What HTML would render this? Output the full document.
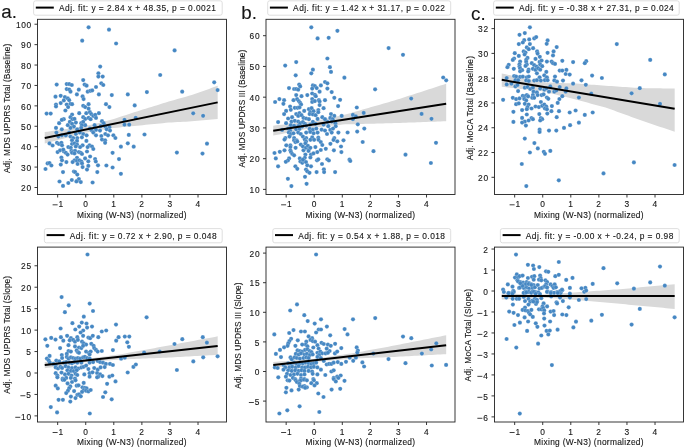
<!DOCTYPE html><html><head><meta charset="utf-8"><style>html,body{margin:0;padding:0;background:#fff;width:685px;height:448px;overflow:hidden}svg{display:block;will-change:transform}text{font-family:"Liberation Sans",sans-serif;fill:#161616;stroke:#161616;stroke-width:0.12px}</style></head><body>
<svg width="685" height="448" viewBox="0 0 685 448">
<text x="1.2" y="18.4" font-size="18.8" stroke="#000" stroke-width="0.3">a.</text>
<text x="241.2" y="18.9" font-size="18.8" stroke="#000" stroke-width="0.3">b.</text>
<text x="471.0" y="20.2" font-size="18.8" stroke="#000" stroke-width="0.3">c.</text>
<polygon fill="#d9d9d9" points="44.74,132.1 47.63,131.68 50.51,131.26 53.39,130.84 56.27,130.42 59.16,130 62.04,129.58 64.92,129.17 67.8,128.75 70.68,128.33 73.57,127.91 76.45,127.49 79.33,127.07 82.21,126.65 85.1,126.23 87.98,125.58 90.86,124.86 93.74,124.13 96.63,123.41 99.51,122.69 102.39,121.97 105.27,121.25 108.16,120.53 111.04,119.81 113.92,118.88 116.8,117.95 119.68,117.02 122.57,116.09 125.45,115.16 128.33,114.22 131.21,113.29 134.1,112.36 136.98,111.43 139.86,110.5 142.74,109.6 145.63,108.71 148.51,107.82 151.39,106.93 154.27,106.03 157.16,105.14 160.04,104.25 162.92,103.35 165.8,102.46 168.68,101.58 171.57,100.76 174.45,99.93 177.33,99.11 180.21,98.29 183.1,97.47 185.98,96.65 188.86,95.83 191.74,95 194.63,94.02 197.51,92.99 200.39,91.97 203.27,90.94 206.16,89.91 209.04,88.88 211.92,87.85 214.8,86.82 217.68,85.79 217.68,119.09 214.8,119.35 211.92,119.6 209.04,119.85 206.16,120.11 203.27,120.36 200.39,120.61 197.51,120.86 194.63,121.12 191.74,121.35 188.86,121.5 185.98,121.65 183.1,121.81 180.21,121.96 177.33,122.11 174.45,122.27 171.57,122.42 168.68,122.57 165.8,122.84 162.92,123.13 160.04,123.42 157.16,123.7 154.27,123.99 151.39,124.28 148.51,124.56 145.63,124.85 142.74,125.14 139.86,125.43 136.98,125.7 134.1,125.98 131.21,126.26 128.33,126.54 125.45,126.82 122.57,127.1 119.68,127.38 116.8,127.66 113.92,127.94 111.04,128.22 108.16,128.72 105.27,129.22 102.39,129.73 99.51,130.23 96.63,130.73 93.74,131.24 90.86,131.74 87.98,132.25 85.1,132.81 82.21,133.57 79.33,134.33 76.45,135.1 73.57,135.86 70.68,136.63 67.8,137.39 64.92,138.15 62.04,138.92 59.16,139.68 56.27,140.44 53.39,141.21 50.51,141.97 47.63,142.74 44.74,143.5"/>
<g fill="#4587c3" stroke="#fff" stroke-opacity="0.55" stroke-width="0.35">
<circle cx="88.6" cy="27.3" r="2.1"/>
<circle cx="109" cy="29.7" r="2.1"/>
<circle cx="82.2" cy="40.7" r="2.1"/>
<circle cx="116.1" cy="43.5" r="2.1"/>
<circle cx="100.2" cy="66.6" r="2.1"/>
<circle cx="98.4" cy="73.3" r="2.1"/>
<circle cx="98.4" cy="76.6" r="2.1"/>
<circle cx="102.7" cy="76.6" r="2.1"/>
<circle cx="83.2" cy="80.1" r="2.1"/>
<circle cx="56.7" cy="84.6" r="2.1"/>
<circle cx="66.7" cy="84.1" r="2.1"/>
<circle cx="69.2" cy="84.1" r="2.1"/>
<circle cx="71.8" cy="85" r="2.1"/>
<circle cx="84.6" cy="84.6" r="2.1"/>
<circle cx="86.6" cy="85.7" r="2.1"/>
<circle cx="101.3" cy="83.3" r="2.1"/>
<circle cx="103.3" cy="85" r="2.1"/>
<circle cx="96" cy="87" r="2.1"/>
<circle cx="66.7" cy="89.1" r="2.1"/>
<circle cx="69.2" cy="89.5" r="2.1"/>
<circle cx="70.5" cy="91.7" r="2.1"/>
<circle cx="78.8" cy="89.7" r="2.1"/>
<circle cx="87.7" cy="91.7" r="2.1"/>
<circle cx="90.3" cy="90.8" r="2.1"/>
<circle cx="92.2" cy="90.4" r="2.1"/>
<circle cx="76.9" cy="94.4" r="2.1"/>
<circle cx="98.9" cy="94.4" r="2.1"/>
<circle cx="111.8" cy="95.1" r="2.1"/>
<circle cx="55.5" cy="96.7" r="2.1"/>
<circle cx="60.7" cy="95.8" r="2.1"/>
<circle cx="64.9" cy="97.1" r="2.1"/>
<circle cx="67.8" cy="98.4" r="2.1"/>
<circle cx="69.2" cy="100.2" r="2.1"/>
<circle cx="82.6" cy="96.4" r="2.1"/>
<circle cx="83.6" cy="99.1" r="2.1"/>
<circle cx="63.8" cy="100.4" r="2.1"/>
<circle cx="56" cy="104.5" r="2.1"/>
<circle cx="56" cy="106.5" r="2.1"/>
<circle cx="60.7" cy="103.1" r="2.1"/>
<circle cx="66.7" cy="104.5" r="2.1"/>
<circle cx="68.1" cy="107.1" r="2.1"/>
<circle cx="70.5" cy="103.8" r="2.1"/>
<circle cx="72.1" cy="104.2" r="2.1"/>
<circle cx="88.6" cy="104.2" r="2.1"/>
<circle cx="83.2" cy="105.8" r="2.1"/>
<circle cx="85.2" cy="107.1" r="2.1"/>
<circle cx="88.6" cy="108.7" r="2.1"/>
<circle cx="106" cy="104.2" r="2.1"/>
<circle cx="109.4" cy="107.1" r="2.1"/>
<circle cx="65.4" cy="110.5" r="2.1"/>
<circle cx="46.6" cy="113.6" r="2.1"/>
<circle cx="50.7" cy="113.6" r="2.1"/>
<circle cx="72.1" cy="114.5" r="2.1"/>
<circle cx="70.5" cy="117.2" r="2.1"/>
<circle cx="72.5" cy="119.2" r="2.1"/>
<circle cx="79.2" cy="113.2" r="2.1"/>
<circle cx="86.3" cy="113.2" r="2.1"/>
<circle cx="89.9" cy="112.2" r="2.1"/>
<circle cx="91.3" cy="114.1" r="2.1"/>
<circle cx="93.3" cy="115.9" r="2.1"/>
<circle cx="95.3" cy="114.9" r="2.1"/>
<circle cx="98.9" cy="113.2" r="2.1"/>
<circle cx="83.2" cy="117.2" r="2.1"/>
<circle cx="85.2" cy="118.9" r="2.1"/>
<circle cx="88.6" cy="117.9" r="2.1"/>
<circle cx="90.6" cy="119.2" r="2.1"/>
<circle cx="96" cy="117.9" r="2.1"/>
<circle cx="63.8" cy="119.2" r="2.1"/>
<circle cx="61.8" cy="119.9" r="2.1"/>
<circle cx="74.5" cy="118.9" r="2.1"/>
<circle cx="59.1" cy="123.2" r="2.1"/>
<circle cx="56" cy="127.9" r="2.1"/>
<circle cx="69.8" cy="121.9" r="2.1"/>
<circle cx="72.1" cy="123.9" r="2.1"/>
<circle cx="75.9" cy="122.6" r="2.1"/>
<circle cx="73.9" cy="126.6" r="2.1"/>
<circle cx="67.8" cy="125.2" r="2.1"/>
<circle cx="70.5" cy="127.9" r="2.1"/>
<circle cx="81.2" cy="123.2" r="2.1"/>
<circle cx="83.2" cy="121.9" r="2.1"/>
<circle cx="85.2" cy="125.2" r="2.1"/>
<circle cx="81.9" cy="125.2" r="2.1"/>
<circle cx="102" cy="121.2" r="2.1"/>
<circle cx="103.7" cy="123.2" r="2.1"/>
<circle cx="94.6" cy="125.2" r="2.1"/>
<circle cx="100.7" cy="126.2" r="2.1"/>
<circle cx="105.3" cy="126.6" r="2.1"/>
<circle cx="109.4" cy="127.2" r="2.1"/>
<circle cx="61.8" cy="129.3" r="2.1"/>
<circle cx="77.2" cy="129.3" r="2.1"/>
<circle cx="81.2" cy="127.9" r="2.1"/>
<circle cx="89.9" cy="128.6" r="2.1"/>
<circle cx="91.9" cy="130.6" r="2.1"/>
<circle cx="96" cy="129.9" r="2.1"/>
<circle cx="100" cy="130.6" r="2.1"/>
<circle cx="106.7" cy="129.3" r="2.1"/>
<circle cx="110" cy="130.6" r="2.1"/>
<circle cx="56.4" cy="132.6" r="2.1"/>
<circle cx="58.4" cy="136.6" r="2.1"/>
<circle cx="61.8" cy="135.3" r="2.1"/>
<circle cx="65.8" cy="135.3" r="2.1"/>
<circle cx="69.2" cy="132.6" r="2.1"/>
<circle cx="70.5" cy="136.6" r="2.1"/>
<circle cx="75.9" cy="134" r="2.1"/>
<circle cx="79.9" cy="132.6" r="2.1"/>
<circle cx="83.2" cy="134" r="2.1"/>
<circle cx="86.6" cy="135.3" r="2.1"/>
<circle cx="93.3" cy="132.6" r="2.1"/>
<circle cx="96" cy="135.3" r="2.1"/>
<circle cx="101.3" cy="136" r="2.1"/>
<circle cx="105.3" cy="134" r="2.1"/>
<circle cx="108" cy="135.3" r="2.1"/>
<circle cx="113.4" cy="135.3" r="2.1"/>
<circle cx="115.4" cy="138" r="2.1"/>
<circle cx="77.2" cy="138" r="2.1"/>
<circle cx="81.9" cy="137.3" r="2.1"/>
<circle cx="73.2" cy="138" r="2.1"/>
<circle cx="72" cy="140.3" r="2.1"/>
<circle cx="77" cy="140.9" r="2.1"/>
<circle cx="86.4" cy="140.9" r="2.1"/>
<circle cx="102" cy="139.6" r="2.1"/>
<circle cx="105.1" cy="140.3" r="2.1"/>
<circle cx="105.1" cy="142.8" r="2.1"/>
<circle cx="49.5" cy="143.4" r="2.1"/>
<circle cx="52.6" cy="145.5" r="2.1"/>
<circle cx="57" cy="142.8" r="2.1"/>
<circle cx="58.9" cy="144" r="2.1"/>
<circle cx="61.4" cy="142.8" r="2.1"/>
<circle cx="62" cy="145.3" r="2.1"/>
<circle cx="72" cy="144" r="2.1"/>
<circle cx="74.5" cy="143.4" r="2.1"/>
<circle cx="77" cy="144.6" r="2.1"/>
<circle cx="75.8" cy="146.5" r="2.1"/>
<circle cx="82.6" cy="145.3" r="2.1"/>
<circle cx="80.1" cy="147.1" r="2.1"/>
<circle cx="89.5" cy="145.3" r="2.1"/>
<circle cx="92" cy="146.5" r="2.1"/>
<circle cx="93.3" cy="149" r="2.1"/>
<circle cx="87.6" cy="147.1" r="2.1"/>
<circle cx="68.3" cy="147.1" r="2.1"/>
<circle cx="70.8" cy="147.8" r="2.1"/>
<circle cx="57.6" cy="152.1" r="2.1"/>
<circle cx="60.1" cy="150.3" r="2.1"/>
<circle cx="63.9" cy="151.5" r="2.1"/>
<circle cx="65.8" cy="152.8" r="2.1"/>
<circle cx="67.6" cy="154.6" r="2.1"/>
<circle cx="63.3" cy="149.6" r="2.1"/>
<circle cx="71.4" cy="150.9" r="2.1"/>
<circle cx="73.3" cy="151.5" r="2.1"/>
<circle cx="75.1" cy="150.9" r="2.1"/>
<circle cx="72" cy="152.8" r="2.1"/>
<circle cx="74.5" cy="153.4" r="2.1"/>
<circle cx="78.9" cy="152.1" r="2.1"/>
<circle cx="80.8" cy="152.8" r="2.1"/>
<circle cx="82" cy="154" r="2.1"/>
<circle cx="87" cy="151.5" r="2.1"/>
<circle cx="112.6" cy="152.8" r="2.1"/>
<circle cx="61.4" cy="157.5" r="2.1"/>
<circle cx="62" cy="160.3" r="2.1"/>
<circle cx="66.4" cy="162.1" r="2.1"/>
<circle cx="77" cy="157.8" r="2.1"/>
<circle cx="74.5" cy="160.3" r="2.1"/>
<circle cx="72.6" cy="162.1" r="2.1"/>
<circle cx="77" cy="160.9" r="2.1"/>
<circle cx="79.5" cy="160.3" r="2.1"/>
<circle cx="81.4" cy="161.5" r="2.1"/>
<circle cx="77.6" cy="164" r="2.1"/>
<circle cx="82" cy="163.4" r="2.1"/>
<circle cx="85.1" cy="158.4" r="2.1"/>
<circle cx="88.3" cy="161.3" r="2.1"/>
<circle cx="90.1" cy="156.5" r="2.1"/>
<circle cx="95.1" cy="159" r="2.1"/>
<circle cx="95.8" cy="161.5" r="2.1"/>
<circle cx="47.6" cy="163.4" r="2.1"/>
<circle cx="49.5" cy="163" r="2.1"/>
<circle cx="51.4" cy="165.5" r="2.1"/>
<circle cx="45.5" cy="169" r="2.1"/>
<circle cx="60.8" cy="164.6" r="2.1"/>
<circle cx="82.6" cy="167.1" r="2.1"/>
<circle cx="88.3" cy="165.9" r="2.1"/>
<circle cx="87" cy="169.6" r="2.1"/>
<circle cx="98" cy="165.3" r="2.1"/>
<circle cx="106.4" cy="165.5" r="2.1"/>
<circle cx="112.6" cy="167.5" r="2.1"/>
<circle cx="63" cy="172.1" r="2.1"/>
<circle cx="73.9" cy="171.5" r="2.1"/>
<circle cx="75.1" cy="172.1" r="2.1"/>
<circle cx="77.3" cy="174.6" r="2.1"/>
<circle cx="97.3" cy="172.1" r="2.1"/>
<circle cx="59.5" cy="181.5" r="2.1"/>
<circle cx="71.8" cy="180" r="2.1"/>
<circle cx="77" cy="180.9" r="2.1"/>
<circle cx="78.9" cy="179" r="2.1"/>
<circle cx="80.8" cy="182.1" r="2.1"/>
<circle cx="76.4" cy="181.5" r="2.1"/>
<circle cx="68.3" cy="183" r="2.1"/>
<circle cx="63" cy="185.9" r="2.1"/>
<circle cx="92.6" cy="182.5" r="2.1"/>
<circle cx="174.6" cy="50.4" r="2.1"/>
<circle cx="160.2" cy="75" r="2.1"/>
<circle cx="214.2" cy="82.3" r="2.1"/>
<circle cx="217.6" cy="90.1" r="2.1"/>
<circle cx="127.8" cy="94.4" r="2.1"/>
<circle cx="146.9" cy="92.1" r="2.1"/>
<circle cx="182.2" cy="91.7" r="2.1"/>
<circle cx="134.7" cy="105.4" r="2.1"/>
<circle cx="193.2" cy="113.3" r="2.1"/>
<circle cx="203.1" cy="115.8" r="2.1"/>
<circle cx="124.5" cy="119.8" r="2.1"/>
<circle cx="135.7" cy="117.8" r="2.1"/>
<circle cx="124.5" cy="124.7" r="2.1"/>
<circle cx="129.2" cy="124.7" r="2.1"/>
<circle cx="128.8" cy="134.9" r="2.1"/>
<circle cx="144.5" cy="134.5" r="2.1"/>
<circle cx="127.8" cy="143.3" r="2.1"/>
<circle cx="120.9" cy="146.7" r="2.1"/>
<circle cx="133.7" cy="146.7" r="2.1"/>
<circle cx="176.9" cy="152.6" r="2.1"/>
<circle cx="207" cy="143.7" r="2.1"/>
<circle cx="202.5" cy="153.6" r="2.1"/>
<circle cx="119" cy="159.1" r="2.1"/>
<circle cx="120.9" cy="173.8" r="2.1"/>
</g>
<line x1="44.74" y1="138.1" x2="217.68" y2="102.39" stroke="#000" stroke-width="2"/>
<rect x="37.5" y="19.3" width="189.0" height="175.2" fill="none" stroke="#222" stroke-width="0.9"/>
<line x1="57.66" y1="194.5" x2="57.66" y2="197.5" stroke="#222" stroke-width="0.9"/>
<rect x="52.61" y="204.45" width="5.0" height="0.8" fill="#111"/><text x="58.46" y="207.20" font-size="8.4" letter-spacing="0.000">1</text>
<line x1="85.73" y1="194.5" x2="85.73" y2="197.5" stroke="#222" stroke-width="0.9"/>
<text x="83.19" y="207.20" font-size="8.4" letter-spacing="0.000">0</text>
<line x1="113.81" y1="194.5" x2="113.81" y2="197.5" stroke="#222" stroke-width="0.9"/>
<text x="111.26" y="207.20" font-size="8.4" letter-spacing="0.000">1</text>
<line x1="141.88" y1="194.5" x2="141.88" y2="197.5" stroke="#222" stroke-width="0.9"/>
<text x="139.34" y="207.20" font-size="8.4" letter-spacing="0.000">2</text>
<line x1="169.96" y1="194.5" x2="169.96" y2="197.5" stroke="#222" stroke-width="0.9"/>
<text x="167.41" y="207.20" font-size="8.4" letter-spacing="0.000">3</text>
<line x1="198.03" y1="194.5" x2="198.03" y2="197.5" stroke="#222" stroke-width="0.9"/>
<text x="195.49" y="207.20" font-size="8.4" letter-spacing="0.000">4</text>
<text x="77.10" y="217.60" font-size="8.4" letter-spacing="0.291">Mixing (W-N3) (normalized)</text>
<line x1="34.5" y1="187.5" x2="37.5" y2="187.5" stroke="#222" stroke-width="0.9"/>
<text x="21.12" y="191.20" font-size="8.4" letter-spacing="0.838">20</text>
<line x1="34.5" y1="167.09" x2="37.5" y2="167.09" stroke="#222" stroke-width="0.9"/>
<text x="21.12" y="170.79" font-size="8.4" letter-spacing="0.838">30</text>
<line x1="34.5" y1="146.68" x2="37.5" y2="146.68" stroke="#222" stroke-width="0.9"/>
<text x="21.12" y="150.38" font-size="8.4" letter-spacing="0.838">40</text>
<line x1="34.5" y1="126.27" x2="37.5" y2="126.27" stroke="#222" stroke-width="0.9"/>
<text x="21.12" y="129.97" font-size="8.4" letter-spacing="0.838">50</text>
<line x1="34.5" y1="105.86" x2="37.5" y2="105.86" stroke="#222" stroke-width="0.9"/>
<text x="21.12" y="109.56" font-size="8.4" letter-spacing="0.838">60</text>
<line x1="34.5" y1="85.45" x2="37.5" y2="85.45" stroke="#222" stroke-width="0.9"/>
<text x="21.12" y="89.15" font-size="8.4" letter-spacing="0.838">70</text>
<line x1="34.5" y1="65.04" x2="37.5" y2="65.04" stroke="#222" stroke-width="0.9"/>
<text x="21.12" y="68.74" font-size="8.4" letter-spacing="0.838">80</text>
<line x1="34.5" y1="44.63" x2="37.5" y2="44.63" stroke="#222" stroke-width="0.9"/>
<text x="21.12" y="48.33" font-size="8.4" letter-spacing="0.838">90</text>
<line x1="34.5" y1="24.22" x2="37.5" y2="24.22" stroke="#222" stroke-width="0.9"/>
<text x="16.03" y="27.92" font-size="8.4" letter-spacing="0.628">100</text>
<g transform="translate(7.0,108.2) rotate(-90)"><text x="-64.90" y="3.00" font-size="8.4" letter-spacing="0.084">Adj. MDS UPDRS Total (Baseline)</text></g>
<rect x="33.6" y="0.8" width="188.6" height="14.4" rx="2" fill="#fff" fill-opacity="0.8" stroke="#d6d6d6" stroke-width="0.8"/>
<line x1="35.8" y1="7.6" x2="53.8" y2="7.6" stroke="#000" stroke-width="2"/>
<text x="59.00" y="11.30" font-size="8.4" letter-spacing="0.449">Adj. fit: y = 2.84 x + 48.35, p = 0.0021</text>
<polygon fill="#d9d9d9" points="273.24,125.7 276.13,125.37 279.01,125.05 281.89,124.73 284.77,124.41 287.66,124.09 290.54,123.77 293.42,123.45 296.3,123.12 299.18,122.8 302.07,122.48 304.95,122.16 307.83,121.84 310.71,121.52 313.6,121.19 316.48,120.65 319.36,120.04 322.24,119.43 325.13,118.82 328.01,118.22 330.89,117.61 333.77,117 336.66,116.39 339.54,115.78 342.42,115.18 345.3,114.53 348.18,113.71 351.07,112.88 353.95,112.06 356.83,111.23 359.71,110.41 362.6,109.59 365.48,108.76 368.36,107.94 371.24,107.11 374.13,106.29 377.01,105.47 379.89,104.64 382.77,103.82 385.66,102.99 388.54,102.17 391.42,101.34 394.3,100.48 397.18,99.55 400.07,98.63 402.95,97.7 405.83,96.78 408.71,95.85 411.6,94.92 414.48,94 417.36,93.07 420.24,92.14 423.13,91.2 426.01,90.26 428.89,89.33 431.77,88.39 434.66,87.45 437.54,86.52 440.42,85.58 443.3,84.64 446.18,83.71 446.18,121.21 443.3,121.32 440.42,121.43 437.54,121.54 434.66,121.64 431.77,121.75 428.89,121.86 426.01,121.97 423.13,122.08 420.24,122.19 417.36,122.3 414.48,122.4 411.6,122.5 408.71,122.61 405.83,122.71 402.95,122.81 400.07,122.91 397.18,123.01 394.3,123.12 391.42,123.2 388.54,123.27 385.66,123.34 382.77,123.42 379.89,123.49 377.01,123.56 374.13,123.63 371.24,123.7 368.36,123.78 365.48,123.85 362.6,123.92 359.71,123.99 356.83,124.07 353.95,124.14 351.07,124.21 348.18,124.28 345.3,124.35 342.42,124.61 339.54,124.91 336.66,125.21 333.77,125.51 330.89,125.8 328.01,126.1 325.13,126.4 322.24,126.7 319.36,126.99 316.48,127.29 313.6,127.65 310.71,128.22 307.83,128.78 304.95,129.35 302.07,129.92 299.18,130.49 296.3,131.05 293.42,131.62 290.54,132.19 287.66,132.76 284.77,133.33 281.89,133.89 279.01,134.46 276.13,135.03 273.24,135.6"/>
<g fill="#4587c3" stroke="#fff" stroke-opacity="0.55" stroke-width="0.35">
<circle cx="311.3" cy="27.3" r="2.1"/>
<circle cx="337.4" cy="30.8" r="2.1"/>
<circle cx="317.6" cy="38.4" r="2.1"/>
<circle cx="328.7" cy="37.8" r="2.1"/>
<circle cx="327.4" cy="58.5" r="2.1"/>
<circle cx="296.2" cy="62.1" r="2.1"/>
<circle cx="285.2" cy="65.6" r="2.1"/>
<circle cx="329.9" cy="67.2" r="2.1"/>
<circle cx="331" cy="71.9" r="2.1"/>
<circle cx="312.9" cy="69.7" r="2.1"/>
<circle cx="311.3" cy="73.3" r="2.1"/>
<circle cx="295.7" cy="75.3" r="2.1"/>
<circle cx="344.4" cy="77.7" r="2.1"/>
<circle cx="325" cy="82" r="2.1"/>
<circle cx="327.4" cy="83.3" r="2.1"/>
<circle cx="299.2" cy="84.6" r="2.1"/>
<circle cx="300.2" cy="86.4" r="2.1"/>
<circle cx="312.9" cy="85.4" r="2.1"/>
<circle cx="314.9" cy="86" r="2.1"/>
<circle cx="320.9" cy="85.4" r="2.1"/>
<circle cx="289" cy="88.1" r="2.1"/>
<circle cx="294.1" cy="89" r="2.1"/>
<circle cx="296.2" cy="89" r="2.1"/>
<circle cx="298.2" cy="89.7" r="2.1"/>
<circle cx="312.2" cy="88.6" r="2.1"/>
<circle cx="316.7" cy="88.1" r="2.1"/>
<circle cx="327.4" cy="88.6" r="2.1"/>
<circle cx="331.7" cy="92.1" r="2.1"/>
<circle cx="319.6" cy="91.7" r="2.1"/>
<circle cx="296.2" cy="95.1" r="2.1"/>
<circle cx="301.5" cy="96.2" r="2.1"/>
<circle cx="307.3" cy="95.1" r="2.1"/>
<circle cx="312.2" cy="93.5" r="2.1"/>
<circle cx="314.9" cy="94.8" r="2.1"/>
<circle cx="315.8" cy="96.2" r="2.1"/>
<circle cx="334.3" cy="97.8" r="2.1"/>
<circle cx="279.4" cy="99.1" r="2.1"/>
<circle cx="275.1" cy="102" r="2.1"/>
<circle cx="284.1" cy="100.2" r="2.1"/>
<circle cx="283.4" cy="103.8" r="2.1"/>
<circle cx="293.5" cy="100.2" r="2.1"/>
<circle cx="297.1" cy="99.1" r="2.1"/>
<circle cx="298.8" cy="101.1" r="2.1"/>
<circle cx="300.2" cy="102.9" r="2.1"/>
<circle cx="301.1" cy="104.5" r="2.1"/>
<circle cx="312.2" cy="99.1" r="2.1"/>
<circle cx="312.2" cy="102" r="2.1"/>
<circle cx="314.9" cy="101.1" r="2.1"/>
<circle cx="318.9" cy="100.2" r="2.1"/>
<circle cx="319.6" cy="101.5" r="2.1"/>
<circle cx="325" cy="100.2" r="2.1"/>
<circle cx="340.1" cy="99.8" r="2.1"/>
<circle cx="290.1" cy="106.5" r="2.1"/>
<circle cx="290.8" cy="109.8" r="2.1"/>
<circle cx="286.1" cy="110.9" r="2.1"/>
<circle cx="284.1" cy="114.1" r="2.1"/>
<circle cx="294.8" cy="107.8" r="2.1"/>
<circle cx="297.5" cy="107.8" r="2.1"/>
<circle cx="299.5" cy="107.4" r="2.1"/>
<circle cx="319.6" cy="105.1" r="2.1"/>
<circle cx="323.6" cy="108.2" r="2.1"/>
<circle cx="338.1" cy="106.1" r="2.1"/>
<circle cx="304.2" cy="110.9" r="2.1"/>
<circle cx="308.9" cy="109.2" r="2.1"/>
<circle cx="311.6" cy="108.2" r="2.1"/>
<circle cx="310.2" cy="112.2" r="2.1"/>
<circle cx="313.6" cy="111.2" r="2.1"/>
<circle cx="318.3" cy="110.1" r="2.1"/>
<circle cx="318.3" cy="112.2" r="2.1"/>
<circle cx="296.2" cy="114.1" r="2.1"/>
<circle cx="299.5" cy="113.2" r="2.1"/>
<circle cx="298.2" cy="115.9" r="2.1"/>
<circle cx="301.5" cy="115.2" r="2.1"/>
<circle cx="309.6" cy="114.1" r="2.1"/>
<circle cx="312.9" cy="114.5" r="2.1"/>
<circle cx="315.6" cy="115.2" r="2.1"/>
<circle cx="331" cy="114.1" r="2.1"/>
<circle cx="334.3" cy="115.9" r="2.1"/>
<circle cx="341.7" cy="115.9" r="2.1"/>
<circle cx="288.1" cy="118.5" r="2.1"/>
<circle cx="292.1" cy="117.2" r="2.1"/>
<circle cx="303.5" cy="117.9" r="2.1"/>
<circle cx="306.2" cy="118.5" r="2.1"/>
<circle cx="308.9" cy="119.2" r="2.1"/>
<circle cx="317.6" cy="118.9" r="2.1"/>
<circle cx="322.3" cy="117.2" r="2.1"/>
<circle cx="325" cy="119.2" r="2.1"/>
<circle cx="330.3" cy="117.9" r="2.1"/>
<circle cx="332.7" cy="119.2" r="2.1"/>
<circle cx="278.1" cy="122.1" r="2.1"/>
<circle cx="286.1" cy="123.2" r="2.1"/>
<circle cx="291.5" cy="121.6" r="2.1"/>
<circle cx="294.8" cy="120.8" r="2.1"/>
<circle cx="298.2" cy="121.6" r="2.1"/>
<circle cx="300.2" cy="123.2" r="2.1"/>
<circle cx="302.9" cy="122.1" r="2.1"/>
<circle cx="304.9" cy="123.9" r="2.1"/>
<circle cx="312.9" cy="121.9" r="2.1"/>
<circle cx="315.6" cy="123.9" r="2.1"/>
<circle cx="310.2" cy="124.6" r="2.1"/>
<circle cx="327.6" cy="121.9" r="2.1"/>
<circle cx="331.7" cy="121.6" r="2.1"/>
<circle cx="335.4" cy="123.2" r="2.1"/>
<circle cx="290.8" cy="125.2" r="2.1"/>
<circle cx="294.1" cy="125.9" r="2.1"/>
<circle cx="298.2" cy="126.2" r="2.1"/>
<circle cx="302.2" cy="126.6" r="2.1"/>
<circle cx="306.2" cy="125.6" r="2.1"/>
<circle cx="323.6" cy="124.6" r="2.1"/>
<circle cx="328.3" cy="126.2" r="2.1"/>
<circle cx="335.7" cy="126.2" r="2.1"/>
<circle cx="282.1" cy="129.9" r="2.1"/>
<circle cx="288.1" cy="128.6" r="2.1"/>
<circle cx="290.1" cy="130.6" r="2.1"/>
<circle cx="296.2" cy="129.3" r="2.1"/>
<circle cx="299.5" cy="128.9" r="2.1"/>
<circle cx="309.6" cy="128.9" r="2.1"/>
<circle cx="312.9" cy="129.7" r="2.1"/>
<circle cx="316.3" cy="128.6" r="2.1"/>
<circle cx="321.6" cy="129.7" r="2.1"/>
<circle cx="325" cy="130.6" r="2.1"/>
<circle cx="330.3" cy="129.9" r="2.1"/>
<circle cx="333" cy="128.6" r="2.1"/>
<circle cx="288.8" cy="132.6" r="2.1"/>
<circle cx="290.8" cy="134" r="2.1"/>
<circle cx="293.5" cy="133.3" r="2.1"/>
<circle cx="298.2" cy="132.6" r="2.1"/>
<circle cx="300.8" cy="134" r="2.1"/>
<circle cx="306.2" cy="132.6" r="2.1"/>
<circle cx="310.2" cy="131.9" r="2.1"/>
<circle cx="313.6" cy="133.3" r="2.1"/>
<circle cx="317.6" cy="132.6" r="2.1"/>
<circle cx="327" cy="134" r="2.1"/>
<circle cx="331.7" cy="132.6" r="2.1"/>
<circle cx="338.4" cy="132.6" r="2.1"/>
<circle cx="285.4" cy="138" r="2.1"/>
<circle cx="289.5" cy="136.6" r="2.1"/>
<circle cx="294.1" cy="138" r="2.1"/>
<circle cx="302.9" cy="136.6" r="2.1"/>
<circle cx="306.2" cy="138" r="2.1"/>
<circle cx="312.2" cy="137.3" r="2.1"/>
<circle cx="318.3" cy="137.7" r="2.1"/>
<circle cx="334.3" cy="138" r="2.1"/>
<circle cx="284.5" cy="139.6" r="2.1"/>
<circle cx="294.1" cy="140.3" r="2.1"/>
<circle cx="296.6" cy="140.3" r="2.1"/>
<circle cx="295.4" cy="142.1" r="2.1"/>
<circle cx="297.3" cy="141.5" r="2.1"/>
<circle cx="304.8" cy="139.6" r="2.1"/>
<circle cx="306" cy="141.5" r="2.1"/>
<circle cx="305.4" cy="143.4" r="2.1"/>
<circle cx="310.4" cy="139.8" r="2.1"/>
<circle cx="314.1" cy="139.8" r="2.1"/>
<circle cx="318.5" cy="139.8" r="2.1"/>
<circle cx="333.5" cy="139.9" r="2.1"/>
<circle cx="337.3" cy="141.3" r="2.1"/>
<circle cx="343.5" cy="140.3" r="2.1"/>
<circle cx="286.3" cy="145.3" r="2.1"/>
<circle cx="290.4" cy="145.3" r="2.1"/>
<circle cx="290.4" cy="147.1" r="2.1"/>
<circle cx="295.6" cy="147.8" r="2.1"/>
<circle cx="300.8" cy="144.6" r="2.1"/>
<circle cx="302.9" cy="146.5" r="2.1"/>
<circle cx="303.5" cy="150.3" r="2.1"/>
<circle cx="306" cy="147.8" r="2.1"/>
<circle cx="307.9" cy="145.9" r="2.1"/>
<circle cx="309.1" cy="149" r="2.1"/>
<circle cx="310.4" cy="147.8" r="2.1"/>
<circle cx="308.5" cy="150.9" r="2.1"/>
<circle cx="315.4" cy="147.1" r="2.1"/>
<circle cx="320.8" cy="142.1" r="2.1"/>
<circle cx="322.3" cy="145" r="2.1"/>
<circle cx="325.8" cy="148.8" r="2.1"/>
<circle cx="320.8" cy="150" r="2.1"/>
<circle cx="330.4" cy="143.8" r="2.1"/>
<circle cx="341" cy="146.5" r="2.1"/>
<circle cx="341.4" cy="152.1" r="2.1"/>
<circle cx="333.9" cy="150.3" r="2.1"/>
<circle cx="274.5" cy="153" r="2.1"/>
<circle cx="279.8" cy="151.8" r="2.1"/>
<circle cx="284.5" cy="150.3" r="2.1"/>
<circle cx="290.4" cy="150.3" r="2.1"/>
<circle cx="291" cy="152.1" r="2.1"/>
<circle cx="292.3" cy="154" r="2.1"/>
<circle cx="294.1" cy="155.3" r="2.1"/>
<circle cx="305.4" cy="154.6" r="2.1"/>
<circle cx="304.8" cy="157.8" r="2.1"/>
<circle cx="311" cy="154.6" r="2.1"/>
<circle cx="310.4" cy="157.5" r="2.1"/>
<circle cx="313.5" cy="153.4" r="2.1"/>
<circle cx="317.3" cy="152.1" r="2.1"/>
<circle cx="275.8" cy="158.4" r="2.1"/>
<circle cx="289.1" cy="158.4" r="2.1"/>
<circle cx="287.9" cy="160.5" r="2.1"/>
<circle cx="285.8" cy="161.8" r="2.1"/>
<circle cx="299.8" cy="158.4" r="2.1"/>
<circle cx="300.4" cy="161.5" r="2.1"/>
<circle cx="302.3" cy="162.8" r="2.1"/>
<circle cx="304.1" cy="160.9" r="2.1"/>
<circle cx="306" cy="162.1" r="2.1"/>
<circle cx="302.9" cy="159.6" r="2.1"/>
<circle cx="317" cy="160.3" r="2.1"/>
<circle cx="318.3" cy="159.3" r="2.1"/>
<circle cx="327.3" cy="159.3" r="2.1"/>
<circle cx="328.9" cy="160.5" r="2.1"/>
<circle cx="322" cy="164" r="2.1"/>
<circle cx="278.1" cy="166.3" r="2.1"/>
<circle cx="295.4" cy="166.3" r="2.1"/>
<circle cx="297.3" cy="168.8" r="2.1"/>
<circle cx="307.3" cy="165.3" r="2.1"/>
<circle cx="311" cy="166.3" r="2.1"/>
<circle cx="306" cy="169.6" r="2.1"/>
<circle cx="307.3" cy="171.3" r="2.1"/>
<circle cx="309.5" cy="172.8" r="2.1"/>
<circle cx="316.6" cy="172.1" r="2.1"/>
<circle cx="323.9" cy="169.3" r="2.1"/>
<circle cx="324.1" cy="172.1" r="2.1"/>
<circle cx="335.1" cy="172.1" r="2.1"/>
<circle cx="305" cy="176.8" r="2.1"/>
<circle cx="287.9" cy="178.8" r="2.1"/>
<circle cx="306.6" cy="183.8" r="2.1"/>
<circle cx="291.4" cy="186.1" r="2.1"/>
<circle cx="388.6" cy="48.1" r="2.1"/>
<circle cx="403" cy="54.8" r="2.1"/>
<circle cx="443.2" cy="77.5" r="2.1"/>
<circle cx="446.2" cy="80.3" r="2.1"/>
<circle cx="375.1" cy="89.3" r="2.1"/>
<circle cx="411.2" cy="98.6" r="2.1"/>
<circle cx="356.8" cy="107.5" r="2.1"/>
<circle cx="352.9" cy="114.9" r="2.1"/>
<circle cx="355.8" cy="116.4" r="2.1"/>
<circle cx="352.9" cy="119.2" r="2.1"/>
<circle cx="363.7" cy="112.9" r="2.1"/>
<circle cx="421.6" cy="113.9" r="2.1"/>
<circle cx="431.5" cy="118.8" r="2.1"/>
<circle cx="357.8" cy="124.3" r="2.1"/>
<circle cx="347.6" cy="132.5" r="2.1"/>
<circle cx="357.2" cy="131.6" r="2.1"/>
<circle cx="364.3" cy="128.6" r="2.1"/>
<circle cx="362.7" cy="142" r="2.1"/>
<circle cx="373.5" cy="151.2" r="2.1"/>
<circle cx="405.5" cy="154.7" r="2.1"/>
<circle cx="436" cy="142.8" r="2.1"/>
<circle cx="430.9" cy="163" r="2.1"/>
<circle cx="349.5" cy="159.7" r="2.1"/>
<circle cx="350.3" cy="161" r="2.1"/>
</g>
<line x1="273.24" y1="130.7" x2="446.18" y2="103.81" stroke="#000" stroke-width="2"/>
<rect x="266.0" y="19.3" width="189.0" height="175.2" fill="none" stroke="#222" stroke-width="0.9"/>
<line x1="286.16" y1="194.5" x2="286.16" y2="197.5" stroke="#222" stroke-width="0.9"/>
<rect x="281.11" y="204.45" width="5.0" height="0.8" fill="#111"/><text x="286.96" y="207.20" font-size="8.4" letter-spacing="0.000">1</text>
<line x1="314.23" y1="194.5" x2="314.23" y2="197.5" stroke="#222" stroke-width="0.9"/>
<text x="311.69" y="207.20" font-size="8.4" letter-spacing="0.000">0</text>
<line x1="342.31" y1="194.5" x2="342.31" y2="197.5" stroke="#222" stroke-width="0.9"/>
<text x="339.76" y="207.20" font-size="8.4" letter-spacing="0.000">1</text>
<line x1="370.38" y1="194.5" x2="370.38" y2="197.5" stroke="#222" stroke-width="0.9"/>
<text x="367.84" y="207.20" font-size="8.4" letter-spacing="0.000">2</text>
<line x1="398.46" y1="194.5" x2="398.46" y2="197.5" stroke="#222" stroke-width="0.9"/>
<text x="395.91" y="207.20" font-size="8.4" letter-spacing="0.000">3</text>
<line x1="426.53" y1="194.5" x2="426.53" y2="197.5" stroke="#222" stroke-width="0.9"/>
<text x="423.99" y="207.20" font-size="8.4" letter-spacing="0.000">4</text>
<text x="305.60" y="217.60" font-size="8.4" letter-spacing="0.291">Mixing (W-N3) (normalized)</text>
<line x1="263" y1="189.4" x2="266.0" y2="189.4" stroke="#222" stroke-width="0.9"/>
<text x="249.62" y="193.10" font-size="8.4" letter-spacing="0.838">10</text>
<line x1="263" y1="158.66" x2="266.0" y2="158.66" stroke="#222" stroke-width="0.9"/>
<text x="249.62" y="162.36" font-size="8.4" letter-spacing="0.838">20</text>
<line x1="263" y1="127.92" x2="266.0" y2="127.92" stroke="#222" stroke-width="0.9"/>
<text x="249.62" y="131.62" font-size="8.4" letter-spacing="0.838">30</text>
<line x1="263" y1="97.18" x2="266.0" y2="97.18" stroke="#222" stroke-width="0.9"/>
<text x="249.62" y="100.88" font-size="8.4" letter-spacing="0.838">40</text>
<line x1="263" y1="66.44" x2="266.0" y2="66.44" stroke="#222" stroke-width="0.9"/>
<text x="249.62" y="70.14" font-size="8.4" letter-spacing="0.838">50</text>
<line x1="263" y1="35.7" x2="266.0" y2="35.7" stroke="#222" stroke-width="0.9"/>
<text x="249.62" y="39.40" font-size="8.4" letter-spacing="0.838">60</text>
<g transform="translate(242.0,108.4) rotate(-90)"><text x="-59.10" y="3.00" font-size="8.4" letter-spacing="0.054">Adj. MDS UPDRS III (Baseline)</text></g>
<rect x="267.7" y="0.8" width="183" height="14.4" rx="2" fill="#fff" fill-opacity="0.8" stroke="#d6d6d6" stroke-width="0.8"/>
<line x1="269.9" y1="7.6" x2="287.9" y2="7.6" stroke="#000" stroke-width="2"/>
<text x="293.10" y="11.30" font-size="8.4" letter-spacing="0.450">Adj. fit: y = 1.42 x + 31.17, p = 0.022</text>
<polygon fill="#d9d9d9" points="501.74,73.46 504.63,74.07 507.51,74.69 510.39,75.31 513.27,75.92 516.16,76.54 519.04,77.16 521.92,77.77 524.8,78.39 527.68,79.01 530.57,79.62 533.45,80.24 536.33,80.86 539.21,81.48 542.1,82.09 544.98,82.32 547.86,82.43 550.74,82.55 553.63,82.67 556.51,82.78 559.39,82.9 562.27,83.01 565.16,83.13 568.04,83.24 570.92,83.36 573.8,83.47 576.68,83.6 579.57,83.81 582.45,84.02 585.33,84.23 588.21,84.44 591.1,84.65 593.98,84.86 596.86,85.07 599.74,85.27 602.63,85.48 605.51,85.69 608.39,85.89 611.27,86.09 614.16,86.29 617.04,86.48 619.92,86.68 622.8,86.88 625.68,87.08 628.57,87.27 631.45,87.47 634.33,87.67 637.21,87.87 640.1,88.06 642.98,88.11 645.86,88.15 648.74,88.19 651.63,88.23 654.51,88.27 657.39,88.31 660.27,88.35 663.16,88.39 666.04,88.43 668.92,88.48 671.8,88.52 674.68,88.56 674.68,131.76 671.8,130.78 668.92,129.81 666.04,128.83 663.16,127.85 660.27,126.88 657.39,125.9 654.51,124.93 651.63,123.95 648.74,122.98 645.86,122 642.98,121.02 640.1,120.05 637.21,119 634.33,117.95 631.45,116.9 628.57,115.86 625.68,114.81 622.8,113.76 619.92,112.72 617.04,111.67 614.16,110.62 611.27,109.57 608.39,108.53 605.51,107.52 602.63,106.74 599.74,105.96 596.86,105.19 593.98,104.41 591.1,103.63 588.21,102.86 585.33,102.08 582.45,101.3 579.57,100.53 576.68,99.75 573.8,99.02 570.92,98.3 568.04,97.58 565.16,96.85 562.27,96.13 559.39,95.41 556.51,94.68 553.63,93.96 550.74,93.24 547.86,92.52 544.98,91.79 542.1,91.16 539.21,90.85 536.33,90.53 533.45,90.22 530.57,89.9 527.68,89.59 524.8,89.27 521.92,88.96 519.04,88.64 516.16,88.33 513.27,88.01 510.39,87.7 507.51,87.38 504.63,87.07 501.74,86.76"/>
<g fill="#4587c3" stroke="#fff" stroke-opacity="0.55" stroke-width="0.35">
<circle cx="529.9" cy="27.3" r="2.1"/>
<circle cx="519.5" cy="34.8" r="2.1"/>
<circle cx="524.8" cy="33.1" r="2.1"/>
<circle cx="534.2" cy="38.4" r="2.1"/>
<circle cx="536.2" cy="37.1" r="2.1"/>
<circle cx="529.2" cy="39.4" r="2.1"/>
<circle cx="524.2" cy="40.2" r="2.1"/>
<circle cx="522.8" cy="42.5" r="2.1"/>
<circle cx="518.8" cy="44.1" r="2.1"/>
<circle cx="529.9" cy="44.1" r="2.1"/>
<circle cx="547.6" cy="40.4" r="2.1"/>
<circle cx="546.7" cy="43.8" r="2.1"/>
<circle cx="526.8" cy="47.4" r="2.1"/>
<circle cx="528.8" cy="49.2" r="2.1"/>
<circle cx="533.1" cy="48.2" r="2.1"/>
<circle cx="556.7" cy="47.1" r="2.1"/>
<circle cx="523.7" cy="51.4" r="2.1"/>
<circle cx="525.5" cy="52.5" r="2.1"/>
<circle cx="524.6" cy="54.5" r="2.1"/>
<circle cx="537.1" cy="51.4" r="2.1"/>
<circle cx="537.6" cy="53.6" r="2.1"/>
<circle cx="514.8" cy="53.2" r="2.1"/>
<circle cx="547.6" cy="52.8" r="2.1"/>
<circle cx="553.6" cy="51.4" r="2.1"/>
<circle cx="553" cy="55.4" r="2.1"/>
<circle cx="518.8" cy="55.9" r="2.1"/>
<circle cx="539.8" cy="56.8" r="2.1"/>
<circle cx="527.5" cy="57.9" r="2.1"/>
<circle cx="526.2" cy="59.9" r="2.1"/>
<circle cx="514.1" cy="58.5" r="2.1"/>
<circle cx="512.8" cy="59.9" r="2.1"/>
<circle cx="535.5" cy="58.9" r="2.1"/>
<circle cx="520.1" cy="61.6" r="2.1"/>
<circle cx="519.5" cy="64.3" r="2.1"/>
<circle cx="519.5" cy="66.6" r="2.1"/>
<circle cx="526.2" cy="61.9" r="2.1"/>
<circle cx="526.8" cy="64.6" r="2.1"/>
<circle cx="525.5" cy="65.9" r="2.1"/>
<circle cx="531.8" cy="63.2" r="2.1"/>
<circle cx="534.2" cy="65.2" r="2.1"/>
<circle cx="536.6" cy="66.6" r="2.1"/>
<circle cx="539.6" cy="61.9" r="2.1"/>
<circle cx="541.6" cy="60.5" r="2.1"/>
<circle cx="540.2" cy="64.6" r="2.1"/>
<circle cx="542.2" cy="66.2" r="2.1"/>
<circle cx="546.9" cy="61.6" r="2.1"/>
<circle cx="551.6" cy="61.6" r="2.1"/>
<circle cx="553" cy="63.2" r="2.1"/>
<circle cx="555" cy="63.9" r="2.1"/>
<circle cx="562.3" cy="60.8" r="2.1"/>
<circle cx="573.1" cy="62.1" r="2.1"/>
<circle cx="508.7" cy="64.8" r="2.1"/>
<circle cx="507.4" cy="67.2" r="2.1"/>
<circle cx="513.8" cy="68.8" r="2.1"/>
<circle cx="520.1" cy="68.3" r="2.1"/>
<circle cx="522.1" cy="70.2" r="2.1"/>
<circle cx="520.1" cy="71.3" r="2.1"/>
<circle cx="528.6" cy="69.7" r="2.1"/>
<circle cx="528.2" cy="71.5" r="2.1"/>
<circle cx="532.9" cy="68.8" r="2.1"/>
<circle cx="535.5" cy="69.9" r="2.1"/>
<circle cx="538.2" cy="68.3" r="2.1"/>
<circle cx="540.2" cy="69.7" r="2.1"/>
<circle cx="536.9" cy="73.3" r="2.1"/>
<circle cx="546.3" cy="71.9" r="2.1"/>
<circle cx="559.7" cy="70.6" r="2.1"/>
<circle cx="562.3" cy="70.6" r="2.1"/>
<circle cx="566.4" cy="69.9" r="2.1"/>
<circle cx="565.7" cy="74" r="2.1"/>
<circle cx="569.7" cy="74.6" r="2.1"/>
<circle cx="514.1" cy="76" r="2.1"/>
<circle cx="516.1" cy="76.6" r="2.1"/>
<circle cx="520.1" cy="76.9" r="2.1"/>
<circle cx="522.8" cy="76.6" r="2.1"/>
<circle cx="526.8" cy="77.3" r="2.1"/>
<circle cx="506.7" cy="78" r="2.1"/>
<circle cx="528.8" cy="76.6" r="2.1"/>
<circle cx="539.6" cy="77.3" r="2.1"/>
<circle cx="544.3" cy="75.3" r="2.1"/>
<circle cx="546.9" cy="77.3" r="2.1"/>
<circle cx="555" cy="76.6" r="2.1"/>
<circle cx="515.4" cy="80.2" r="2.1"/>
<circle cx="518.1" cy="80.2" r="2.1"/>
<circle cx="526.2" cy="80.4" r="2.1"/>
<circle cx="528.8" cy="81" r="2.1"/>
<circle cx="534.2" cy="80.6" r="2.1"/>
<circle cx="536.9" cy="80.2" r="2.1"/>
<circle cx="540.9" cy="80.6" r="2.1"/>
<circle cx="544.9" cy="80.2" r="2.1"/>
<circle cx="547.6" cy="80.2" r="2.1"/>
<circle cx="554.3" cy="80.4" r="2.1"/>
<circle cx="557" cy="81.7" r="2.1"/>
<circle cx="563" cy="80.6" r="2.1"/>
<circle cx="506.7" cy="84.4" r="2.1"/>
<circle cx="511.4" cy="83.7" r="2.1"/>
<circle cx="515.4" cy="86.4" r="2.1"/>
<circle cx="517.5" cy="85" r="2.1"/>
<circle cx="524.8" cy="87.7" r="2.1"/>
<circle cx="527.5" cy="87" r="2.1"/>
<circle cx="530.2" cy="89" r="2.1"/>
<circle cx="532.9" cy="87.7" r="2.1"/>
<circle cx="540.2" cy="88.6" r="2.1"/>
<circle cx="544.3" cy="89.7" r="2.1"/>
<circle cx="546.3" cy="88.4" r="2.1"/>
<circle cx="550.3" cy="86.4" r="2.1"/>
<circle cx="549" cy="91.7" r="2.1"/>
<circle cx="554.3" cy="91.7" r="2.1"/>
<circle cx="556.3" cy="90.4" r="2.1"/>
<circle cx="559.7" cy="87" r="2.1"/>
<circle cx="566.4" cy="88.4" r="2.1"/>
<circle cx="565.7" cy="91.7" r="2.1"/>
<circle cx="573.1" cy="83.7" r="2.1"/>
<circle cx="518.1" cy="91.1" r="2.1"/>
<circle cx="533.5" cy="91.7" r="2.1"/>
<circle cx="536.9" cy="92.4" r="2.1"/>
<circle cx="503.1" cy="99.8" r="2.1"/>
<circle cx="512.8" cy="97.8" r="2.1"/>
<circle cx="516.1" cy="99.1" r="2.1"/>
<circle cx="519.5" cy="98.4" r="2.1"/>
<circle cx="522.8" cy="95.8" r="2.1"/>
<circle cx="524.8" cy="96.4" r="2.1"/>
<circle cx="526.8" cy="95.1" r="2.1"/>
<circle cx="528.2" cy="96.4" r="2.1"/>
<circle cx="524.2" cy="99.1" r="2.1"/>
<circle cx="526.2" cy="100.4" r="2.1"/>
<circle cx="532.9" cy="95.1" r="2.1"/>
<circle cx="532.2" cy="97.8" r="2.1"/>
<circle cx="534.2" cy="97.8" r="2.1"/>
<circle cx="537.6" cy="95.1" r="2.1"/>
<circle cx="541.6" cy="95.1" r="2.1"/>
<circle cx="543.6" cy="94.4" r="2.1"/>
<circle cx="546.9" cy="97.5" r="2.1"/>
<circle cx="548.3" cy="98.8" r="2.1"/>
<circle cx="559.4" cy="99.1" r="2.1"/>
<circle cx="562.3" cy="96.2" r="2.1"/>
<circle cx="516.1" cy="104.2" r="2.1"/>
<circle cx="518.8" cy="103.4" r="2.1"/>
<circle cx="524.8" cy="103.8" r="2.1"/>
<circle cx="528.6" cy="104.5" r="2.1"/>
<circle cx="527.5" cy="107.1" r="2.1"/>
<circle cx="526.8" cy="109.2" r="2.1"/>
<circle cx="531.5" cy="108.5" r="2.1"/>
<circle cx="535.5" cy="106.5" r="2.1"/>
<circle cx="538.9" cy="107.1" r="2.1"/>
<circle cx="540.9" cy="102" r="2.1"/>
<circle cx="542.2" cy="105.8" r="2.1"/>
<circle cx="544.3" cy="104.5" r="2.1"/>
<circle cx="546.3" cy="106.5" r="2.1"/>
<circle cx="544.9" cy="108.5" r="2.1"/>
<circle cx="551.9" cy="106.1" r="2.1"/>
<circle cx="557.7" cy="102.9" r="2.1"/>
<circle cx="513.4" cy="111.8" r="2.1"/>
<circle cx="522.1" cy="110.1" r="2.1"/>
<circle cx="546.9" cy="109.2" r="2.1"/>
<circle cx="547.3" cy="113.6" r="2.1"/>
<circle cx="551.4" cy="111.2" r="2.1"/>
<circle cx="559" cy="111.2" r="2.1"/>
<circle cx="569.7" cy="112.5" r="2.1"/>
<circle cx="526.8" cy="114.5" r="2.1"/>
<circle cx="539.3" cy="114.1" r="2.1"/>
<circle cx="522.1" cy="117.9" r="2.1"/>
<circle cx="524.8" cy="121.6" r="2.1"/>
<circle cx="522.1" cy="122.6" r="2.1"/>
<circle cx="531.5" cy="118.1" r="2.1"/>
<circle cx="532.9" cy="119.2" r="2.1"/>
<circle cx="528.6" cy="120.5" r="2.1"/>
<circle cx="540.9" cy="118.1" r="2.1"/>
<circle cx="542.2" cy="119.2" r="2.1"/>
<circle cx="540.2" cy="120.5" r="2.1"/>
<circle cx="556.7" cy="117.2" r="2.1"/>
<circle cx="513.4" cy="121.9" r="2.1"/>
<circle cx="525.9" cy="125.6" r="2.1"/>
<circle cx="570.1" cy="125.2" r="2.1"/>
<circle cx="564" cy="127.9" r="2.1"/>
<circle cx="539.6" cy="129.7" r="2.1"/>
<circle cx="539.6" cy="131.9" r="2.1"/>
<circle cx="549" cy="130.6" r="2.1"/>
<circle cx="556.3" cy="130.6" r="2.1"/>
<circle cx="524.8" cy="138.6" r="2.1"/>
<circle cx="534.4" cy="143.1" r="2.1"/>
<circle cx="537.8" cy="148.4" r="2.1"/>
<circle cx="529.9" cy="152.5" r="2.1"/>
<circle cx="543.8" cy="151.8" r="2.1"/>
<circle cx="545" cy="153.8" r="2.1"/>
<circle cx="550.3" cy="150.9" r="2.1"/>
<circle cx="521.8" cy="164" r="2.1"/>
<circle cx="558.8" cy="180.3" r="2.1"/>
<circle cx="526.3" cy="186.1" r="2.1"/>
<circle cx="616.8" cy="44.1" r="2.1"/>
<circle cx="650.2" cy="59.9" r="2.1"/>
<circle cx="664.8" cy="74.4" r="2.1"/>
<circle cx="586.2" cy="61.2" r="2.1"/>
<circle cx="584.8" cy="63.2" r="2.1"/>
<circle cx="592.1" cy="75.6" r="2.1"/>
<circle cx="601.9" cy="78" r="2.1"/>
<circle cx="581.5" cy="80.3" r="2.1"/>
<circle cx="585.8" cy="84.8" r="2.1"/>
<circle cx="639.8" cy="88.2" r="2.1"/>
<circle cx="631.6" cy="93.3" r="2.1"/>
<circle cx="591.3" cy="93.7" r="2.1"/>
<circle cx="578.9" cy="97.6" r="2.1"/>
<circle cx="660" cy="103.9" r="2.1"/>
<circle cx="575.6" cy="110.5" r="2.1"/>
<circle cx="584.8" cy="114.9" r="2.1"/>
<circle cx="592.7" cy="112.5" r="2.1"/>
<circle cx="578.9" cy="122.7" r="2.1"/>
<circle cx="633.9" cy="162.4" r="2.1"/>
<circle cx="603.5" cy="173.4" r="2.1"/>
<circle cx="674.6" cy="165" r="2.1"/>
</g>
<line x1="501.74" y1="79.86" x2="674.68" y2="108.86" stroke="#000" stroke-width="2"/>
<rect x="494.5" y="19.3" width="189.0" height="175.2" fill="none" stroke="#222" stroke-width="0.9"/>
<line x1="514.66" y1="194.5" x2="514.66" y2="197.5" stroke="#222" stroke-width="0.9"/>
<rect x="509.61" y="204.45" width="5.0" height="0.8" fill="#111"/><text x="515.46" y="207.20" font-size="8.4" letter-spacing="0.000">1</text>
<line x1="542.73" y1="194.5" x2="542.73" y2="197.5" stroke="#222" stroke-width="0.9"/>
<text x="540.19" y="207.20" font-size="8.4" letter-spacing="0.000">0</text>
<line x1="570.81" y1="194.5" x2="570.81" y2="197.5" stroke="#222" stroke-width="0.9"/>
<text x="568.26" y="207.20" font-size="8.4" letter-spacing="0.000">1</text>
<line x1="598.88" y1="194.5" x2="598.88" y2="197.5" stroke="#222" stroke-width="0.9"/>
<text x="596.34" y="207.20" font-size="8.4" letter-spacing="0.000">2</text>
<line x1="626.96" y1="194.5" x2="626.96" y2="197.5" stroke="#222" stroke-width="0.9"/>
<text x="624.41" y="207.20" font-size="8.4" letter-spacing="0.000">3</text>
<line x1="655.03" y1="194.5" x2="655.03" y2="197.5" stroke="#222" stroke-width="0.9"/>
<text x="652.49" y="207.20" font-size="8.4" letter-spacing="0.000">4</text>
<text x="534.10" y="217.60" font-size="8.4" letter-spacing="0.291">Mixing (W-N3) (normalized)</text>
<line x1="491.5" y1="177.3" x2="494.5" y2="177.3" stroke="#222" stroke-width="0.9"/>
<text x="478.12" y="181.00" font-size="8.4" letter-spacing="0.838">20</text>
<line x1="491.5" y1="152.52" x2="494.5" y2="152.52" stroke="#222" stroke-width="0.9"/>
<text x="478.12" y="156.22" font-size="8.4" letter-spacing="0.838">22</text>
<line x1="491.5" y1="127.74" x2="494.5" y2="127.74" stroke="#222" stroke-width="0.9"/>
<text x="478.12" y="131.44" font-size="8.4" letter-spacing="0.838">24</text>
<line x1="491.5" y1="102.96" x2="494.5" y2="102.96" stroke="#222" stroke-width="0.9"/>
<text x="478.12" y="106.66" font-size="8.4" letter-spacing="0.838">26</text>
<line x1="491.5" y1="78.18" x2="494.5" y2="78.18" stroke="#222" stroke-width="0.9"/>
<text x="478.12" y="81.88" font-size="8.4" letter-spacing="0.838">28</text>
<line x1="491.5" y1="53.4" x2="494.5" y2="53.4" stroke="#222" stroke-width="0.9"/>
<text x="478.12" y="57.10" font-size="8.4" letter-spacing="0.838">30</text>
<line x1="491.5" y1="28.62" x2="494.5" y2="28.62" stroke="#222" stroke-width="0.9"/>
<text x="478.12" y="32.32" font-size="8.4" letter-spacing="0.838">32</text>
<g transform="translate(470.0,108.0) rotate(-90)"><text x="-52.25" y="3.00" font-size="8.4" letter-spacing="0.190">Adj. MoCA Total (Baseline)</text></g>
<rect x="493.6" y="0.8" width="185.6" height="14.4" rx="2" fill="#fff" fill-opacity="0.8" stroke="#d6d6d6" stroke-width="0.8"/>
<line x1="495.8" y1="7.6" x2="513.8" y2="7.6" stroke="#000" stroke-width="2"/>
<text x="519.00" y="11.30" font-size="8.4" letter-spacing="0.441">Adj. fit: y = -0.38 x + 27.31, p = 0.024</text>
<polygon fill="#d9d9d9" points="44.74,362.07 47.63,361.86 50.51,361.65 53.39,361.44 56.27,361.22 59.16,361.01 62.04,360.8 64.92,360.59 67.8,360.38 70.68,360.17 73.57,359.95 76.45,359.74 79.33,359.53 82.21,359.32 85.1,359.11 87.98,358.76 90.86,358.36 93.74,357.97 96.63,357.58 99.51,357.18 102.39,356.79 105.27,356.4 108.16,356.01 111.04,355.61 113.92,355.22 116.8,354.83 119.68,354.44 122.57,353.92 125.45,353.4 128.33,352.87 131.21,352.35 134.1,351.82 136.98,351.29 139.86,350.77 142.74,350.24 145.63,349.72 148.51,349.19 151.39,348.66 154.27,348.14 157.16,347.61 160.04,347.09 162.92,346.56 165.8,346.03 168.68,345.51 171.57,344.97 174.45,344.43 177.33,343.89 180.21,343.35 183.1,342.81 185.98,342.27 188.86,341.74 191.74,341.2 194.63,340.66 197.51,340.12 200.39,339.58 203.27,339.04 206.16,338.5 209.04,337.96 211.92,337.43 214.8,336.89 217.68,336.35 217.68,354.85 214.8,355.01 211.92,355.17 209.04,355.33 206.16,355.49 203.27,355.65 200.39,355.81 197.51,355.96 194.63,356.12 191.74,356.28 188.86,356.44 185.98,356.6 183.1,356.76 180.21,356.92 177.33,357.08 174.45,357.24 171.57,357.4 168.68,357.56 165.8,357.68 162.92,357.79 160.04,357.91 157.16,358.02 154.27,358.14 151.39,358.25 148.51,358.37 145.63,358.48 142.74,358.59 139.86,358.71 136.98,358.82 134.1,358.94 131.21,359.05 128.33,359.16 125.45,359.28 122.57,359.39 119.68,359.52 116.8,359.73 113.92,359.95 111.04,360.17 108.16,360.38 105.27,360.6 102.39,360.81 99.51,361.03 96.63,361.25 93.74,361.46 90.86,361.68 87.98,361.89 85.1,362.16 82.21,362.59 79.33,363.03 76.45,363.47 73.57,363.9 70.68,364.34 67.8,364.78 64.92,365.21 62.04,365.65 59.16,366.09 56.27,366.52 53.39,366.96 50.51,367.4 47.63,367.83 44.74,368.27"/>
<g fill="#4587c3" stroke="#fff" stroke-opacity="0.55" stroke-width="0.35">
<circle cx="87.5" cy="254.5" r="2.1"/>
<circle cx="61.6" cy="297.1" r="2.1"/>
<circle cx="68.8" cy="305.3" r="2.1"/>
<circle cx="64.9" cy="312.2" r="2.1"/>
<circle cx="89.7" cy="303.6" r="2.1"/>
<circle cx="93" cy="311" r="2.1"/>
<circle cx="83.8" cy="316.7" r="2.1"/>
<circle cx="72.4" cy="323.2" r="2.1"/>
<circle cx="81.8" cy="322.6" r="2.1"/>
<circle cx="86.5" cy="323.6" r="2.1"/>
<circle cx="79.2" cy="326.6" r="2.1"/>
<circle cx="87.1" cy="327.6" r="2.1"/>
<circle cx="92" cy="326.6" r="2.1"/>
<circle cx="75.3" cy="329.5" r="2.1"/>
<circle cx="83.2" cy="330.5" r="2.1"/>
<circle cx="80.6" cy="332.5" r="2.1"/>
<circle cx="60.6" cy="328.5" r="2.1"/>
<circle cx="116" cy="324.6" r="2.1"/>
<circle cx="101.8" cy="331.5" r="2.1"/>
<circle cx="106.2" cy="330.5" r="2.1"/>
<circle cx="146.6" cy="317.3" r="2.1"/>
<circle cx="45.4" cy="339.3" r="2.1"/>
<circle cx="51.2" cy="337.9" r="2.1"/>
<circle cx="55.5" cy="339.6" r="2.1"/>
<circle cx="60.9" cy="337.2" r="2.1"/>
<circle cx="63.3" cy="340.7" r="2.1"/>
<circle cx="67.1" cy="335.8" r="2.1"/>
<circle cx="70.9" cy="338.2" r="2.1"/>
<circle cx="69.7" cy="340.3" r="2.1"/>
<circle cx="73.2" cy="339.9" r="2.1"/>
<circle cx="75" cy="341.7" r="2.1"/>
<circle cx="77.3" cy="337.2" r="2.1"/>
<circle cx="77.9" cy="339.9" r="2.1"/>
<circle cx="83.1" cy="335.8" r="2.1"/>
<circle cx="88.4" cy="337.6" r="2.1"/>
<circle cx="90.1" cy="338.2" r="2.1"/>
<circle cx="92.8" cy="335.8" r="2.1"/>
<circle cx="98.3" cy="337.2" r="2.1"/>
<circle cx="116.2" cy="340.7" r="2.1"/>
<circle cx="47.3" cy="345.8" r="2.1"/>
<circle cx="60.1" cy="348.1" r="2.1"/>
<circle cx="68.5" cy="345.2" r="2.1"/>
<circle cx="75" cy="346.4" r="2.1"/>
<circle cx="82" cy="341.7" r="2.1"/>
<circle cx="83.7" cy="343.4" r="2.1"/>
<circle cx="86.1" cy="344.6" r="2.1"/>
<circle cx="79" cy="347.5" r="2.1"/>
<circle cx="81.4" cy="348.1" r="2.1"/>
<circle cx="83.1" cy="345.8" r="2.1"/>
<circle cx="91.3" cy="343.8" r="2.1"/>
<circle cx="93.6" cy="345.8" r="2.1"/>
<circle cx="94.2" cy="348.1" r="2.1"/>
<circle cx="96" cy="349.9" r="2.1"/>
<circle cx="97.7" cy="351.6" r="2.1"/>
<circle cx="101.8" cy="351" r="2.1"/>
<circle cx="112.9" cy="350.1" r="2.1"/>
<circle cx="76.7" cy="350.4" r="2.1"/>
<circle cx="77.9" cy="352.2" r="2.1"/>
<circle cx="79" cy="352.8" r="2.1"/>
<circle cx="68.5" cy="351" r="2.1"/>
<circle cx="70.9" cy="351.6" r="2.1"/>
<circle cx="66.8" cy="353.9" r="2.1"/>
<circle cx="86.1" cy="351.6" r="2.1"/>
<circle cx="89" cy="352.8" r="2.1"/>
<circle cx="90.7" cy="351.6" r="2.1"/>
<circle cx="89.6" cy="354.5" r="2.1"/>
<circle cx="49.6" cy="355.9" r="2.1"/>
<circle cx="46.9" cy="358.6" r="2.1"/>
<circle cx="48.7" cy="360.4" r="2.1"/>
<circle cx="56.3" cy="360.6" r="2.1"/>
<circle cx="59.2" cy="361.3" r="2.1"/>
<circle cx="61.8" cy="355.1" r="2.1"/>
<circle cx="62.1" cy="358" r="2.1"/>
<circle cx="66.8" cy="356.9" r="2.1"/>
<circle cx="68.5" cy="358.6" r="2.1"/>
<circle cx="70.9" cy="357.4" r="2.1"/>
<circle cx="73.2" cy="358" r="2.1"/>
<circle cx="75.5" cy="358.6" r="2.1"/>
<circle cx="77.9" cy="358" r="2.1"/>
<circle cx="80.2" cy="358.6" r="2.1"/>
<circle cx="83.1" cy="357.4" r="2.1"/>
<circle cx="84.9" cy="356.9" r="2.1"/>
<circle cx="87.2" cy="358" r="2.1"/>
<circle cx="89.6" cy="358.6" r="2.1"/>
<circle cx="49.8" cy="362.7" r="2.1"/>
<circle cx="53.4" cy="363.9" r="2.1"/>
<circle cx="55.7" cy="365" r="2.1"/>
<circle cx="63.9" cy="362.7" r="2.1"/>
<circle cx="66.2" cy="362.1" r="2.1"/>
<circle cx="69.7" cy="362.7" r="2.1"/>
<circle cx="72" cy="363.3" r="2.1"/>
<circle cx="74.4" cy="362.1" r="2.1"/>
<circle cx="77.3" cy="362.7" r="2.1"/>
<circle cx="81.4" cy="362.7" r="2.1"/>
<circle cx="89.6" cy="362.7" r="2.1"/>
<circle cx="93.1" cy="362.1" r="2.1"/>
<circle cx="97.7" cy="360.9" r="2.1"/>
<circle cx="100.1" cy="362.1" r="2.1"/>
<circle cx="103" cy="362.7" r="2.1"/>
<circle cx="105.9" cy="363.9" r="2.1"/>
<circle cx="110" cy="363.9" r="2.1"/>
<circle cx="112.9" cy="365" r="2.1"/>
<circle cx="55.7" cy="367.4" r="2.1"/>
<circle cx="58" cy="368.5" r="2.1"/>
<circle cx="60.4" cy="366.8" r="2.1"/>
<circle cx="62.1" cy="368" r="2.1"/>
<circle cx="65.6" cy="366.2" r="2.1"/>
<circle cx="68.5" cy="367.4" r="2.1"/>
<circle cx="72" cy="368" r="2.1"/>
<circle cx="75.5" cy="367.4" r="2.1"/>
<circle cx="78.5" cy="368.5" r="2.1"/>
<circle cx="81.4" cy="367.4" r="2.1"/>
<circle cx="83.7" cy="366.8" r="2.1"/>
<circle cx="86.1" cy="365.6" r="2.1"/>
<circle cx="88.4" cy="369.1" r="2.1"/>
<circle cx="94.2" cy="368" r="2.1"/>
<circle cx="97.7" cy="369.7" r="2.1"/>
<circle cx="100.6" cy="367.4" r="2.1"/>
<circle cx="104.7" cy="367.1" r="2.1"/>
<circle cx="67.4" cy="370.3" r="2.1"/>
<circle cx="70.9" cy="370.9" r="2.1"/>
<circle cx="73.8" cy="371.1" r="2.1"/>
<circle cx="76.7" cy="370.3" r="2.1"/>
<circle cx="55.7" cy="373.2" r="2.1"/>
<circle cx="57.4" cy="375.5" r="2.1"/>
<circle cx="61.5" cy="372.6" r="2.1"/>
<circle cx="65" cy="374.4" r="2.1"/>
<circle cx="68.5" cy="373.8" r="2.1"/>
<circle cx="71.5" cy="375.5" r="2.1"/>
<circle cx="75.5" cy="373.8" r="2.1"/>
<circle cx="77.3" cy="375" r="2.1"/>
<circle cx="84.3" cy="374.4" r="2.1"/>
<circle cx="89.6" cy="373.2" r="2.1"/>
<circle cx="92.5" cy="372.3" r="2.1"/>
<circle cx="97.1" cy="373" r="2.1"/>
<circle cx="100.1" cy="374.4" r="2.1"/>
<circle cx="102.4" cy="376.1" r="2.1"/>
<circle cx="98.3" cy="376.7" r="2.1"/>
<circle cx="57.4" cy="377.3" r="2.1"/>
<circle cx="62.7" cy="378.5" r="2.1"/>
<circle cx="66.2" cy="377.9" r="2.1"/>
<circle cx="70.9" cy="377.9" r="2.1"/>
<circle cx="75" cy="378.5" r="2.1"/>
<circle cx="89.6" cy="376.7" r="2.1"/>
<circle cx="97.1" cy="377.3" r="2.1"/>
<circle cx="109.4" cy="376.7" r="2.1"/>
<circle cx="112.3" cy="375.5" r="2.1"/>
<circle cx="62.7" cy="379.8" r="2.1"/>
<circle cx="64.4" cy="379.8" r="2.1"/>
<circle cx="72" cy="382" r="2.1"/>
<circle cx="75.5" cy="380.3" r="2.1"/>
<circle cx="107.1" cy="383.8" r="2.1"/>
<circle cx="115.5" cy="381.4" r="2.1"/>
<circle cx="67.6" cy="383.4" r="2.1"/>
<circle cx="55.7" cy="385.7" r="2.1"/>
<circle cx="57.8" cy="388.4" r="2.1"/>
<circle cx="70.3" cy="386.4" r="2.1"/>
<circle cx="69.1" cy="388.4" r="2.1"/>
<circle cx="67.9" cy="390.8" r="2.1"/>
<circle cx="66.2" cy="393.1" r="2.1"/>
<circle cx="76.7" cy="385.7" r="2.1"/>
<circle cx="78.5" cy="385.3" r="2.1"/>
<circle cx="83.7" cy="382.9" r="2.1"/>
<circle cx="82.5" cy="387.3" r="2.1"/>
<circle cx="84.9" cy="387.8" r="2.1"/>
<circle cx="86.6" cy="388.4" r="2.1"/>
<circle cx="83.7" cy="390.2" r="2.1"/>
<circle cx="86.1" cy="390.8" r="2.1"/>
<circle cx="88.4" cy="391.4" r="2.1"/>
<circle cx="90.7" cy="390" r="2.1"/>
<circle cx="82" cy="391.9" r="2.1"/>
<circle cx="74.1" cy="391.1" r="2.1"/>
<circle cx="77.3" cy="394.9" r="2.1"/>
<circle cx="79" cy="394.3" r="2.1"/>
<circle cx="80.8" cy="396.3" r="2.1"/>
<circle cx="75.5" cy="398.1" r="2.1"/>
<circle cx="70.9" cy="396.6" r="2.1"/>
<circle cx="70.3" cy="401.6" r="2.1"/>
<circle cx="58.6" cy="399.8" r="2.1"/>
<circle cx="62.9" cy="399.8" r="2.1"/>
<circle cx="105.3" cy="392.3" r="2.1"/>
<circle cx="103" cy="397" r="2.1"/>
<circle cx="111.7" cy="399.3" r="2.1"/>
<circle cx="50.8" cy="407.1" r="2.1"/>
<circle cx="57.1" cy="412.4" r="2.1"/>
<circle cx="89.8" cy="413.5" r="2.1"/>
<circle cx="118.6" cy="337.2" r="2.1"/>
<circle cx="124.8" cy="336.6" r="2.1"/>
<circle cx="129.3" cy="336.6" r="2.1"/>
<circle cx="127.3" cy="342.3" r="2.1"/>
<circle cx="128.9" cy="346.8" r="2.1"/>
<circle cx="121.1" cy="358.7" r="2.1"/>
<circle cx="124.8" cy="357.7" r="2.1"/>
<circle cx="144.1" cy="352.6" r="2.1"/>
<circle cx="159.7" cy="351.5" r="2.1"/>
<circle cx="174.5" cy="344" r="2.1"/>
<circle cx="182.3" cy="339.2" r="2.1"/>
<circle cx="202.8" cy="337.2" r="2.1"/>
<circle cx="206.9" cy="342.7" r="2.1"/>
<circle cx="193.3" cy="361.4" r="2.1"/>
<circle cx="203.2" cy="357.3" r="2.1"/>
<circle cx="217.6" cy="356.3" r="2.1"/>
<circle cx="133.4" cy="366.9" r="2.1"/>
<circle cx="135.9" cy="364.5" r="2.1"/>
<circle cx="127.7" cy="372.5" r="2.1"/>
<circle cx="176.9" cy="370" r="2.1"/>
</g>
<line x1="44.74" y1="365.07" x2="217.68" y2="346.05" stroke="#000" stroke-width="2"/>
<rect x="37.5" y="247.1" width="189.0" height="174.9" fill="none" stroke="#222" stroke-width="0.9"/>
<line x1="57.66" y1="422.0" x2="57.66" y2="425" stroke="#222" stroke-width="0.9"/>
<rect x="52.61" y="432.15" width="5.0" height="0.8" fill="#111"/><text x="58.46" y="434.90" font-size="8.4" letter-spacing="0.000">1</text>
<line x1="85.73" y1="422.0" x2="85.73" y2="425" stroke="#222" stroke-width="0.9"/>
<text x="83.19" y="434.90" font-size="8.4" letter-spacing="0.000">0</text>
<line x1="113.81" y1="422.0" x2="113.81" y2="425" stroke="#222" stroke-width="0.9"/>
<text x="111.26" y="434.90" font-size="8.4" letter-spacing="0.000">1</text>
<line x1="141.88" y1="422.0" x2="141.88" y2="425" stroke="#222" stroke-width="0.9"/>
<text x="139.34" y="434.90" font-size="8.4" letter-spacing="0.000">2</text>
<line x1="169.96" y1="422.0" x2="169.96" y2="425" stroke="#222" stroke-width="0.9"/>
<text x="167.41" y="434.90" font-size="8.4" letter-spacing="0.000">3</text>
<line x1="198.03" y1="422.0" x2="198.03" y2="425" stroke="#222" stroke-width="0.9"/>
<text x="195.49" y="434.90" font-size="8.4" letter-spacing="0.000">4</text>
<text x="77.10" y="445.30" font-size="8.4" letter-spacing="0.291">Mixing (W-N3) (normalized)</text>
<line x1="34.5" y1="415.89" x2="37.5" y2="415.89" stroke="#222" stroke-width="0.9"/>
<rect x="15.27" y="416.84" width="5.0" height="0.8" fill="#111"/><text x="21.12" y="419.59" font-size="8.4" letter-spacing="0.838">10</text>
<line x1="34.5" y1="394.44" x2="37.5" y2="394.44" stroke="#222" stroke-width="0.9"/>
<rect x="20.36" y="395.39" width="5.0" height="0.8" fill="#111"/><text x="26.21" y="398.14" font-size="8.4" letter-spacing="0.000">5</text>
<line x1="34.5" y1="373" x2="37.5" y2="373" stroke="#222" stroke-width="0.9"/>
<text x="26.21" y="376.70" font-size="8.4" letter-spacing="0.000">0</text>
<line x1="34.5" y1="351.56" x2="37.5" y2="351.56" stroke="#222" stroke-width="0.9"/>
<text x="26.21" y="355.25" font-size="8.4" letter-spacing="0.000">5</text>
<line x1="34.5" y1="330.11" x2="37.5" y2="330.11" stroke="#222" stroke-width="0.9"/>
<text x="21.12" y="333.81" font-size="8.4" letter-spacing="0.838">10</text>
<line x1="34.5" y1="308.67" x2="37.5" y2="308.67" stroke="#222" stroke-width="0.9"/>
<text x="21.12" y="312.37" font-size="8.4" letter-spacing="0.838">15</text>
<line x1="34.5" y1="287.22" x2="37.5" y2="287.22" stroke="#222" stroke-width="0.9"/>
<text x="21.12" y="290.92" font-size="8.4" letter-spacing="0.838">20</text>
<line x1="34.5" y1="265.77" x2="37.5" y2="265.77" stroke="#222" stroke-width="0.9"/>
<text x="21.12" y="269.47" font-size="8.4" letter-spacing="0.838">25</text>
<g transform="translate(7.0,334.6) rotate(-90)"><text x="-59.04" y="3.00" font-size="8.4" letter-spacing="0.057">Adj. MDS UPDRS Total (Slope)</text></g>
<rect x="44.4" y="228.6" width="177.8" height="14.2" rx="2" fill="#fff" fill-opacity="0.8" stroke="#d6d6d6" stroke-width="0.8"/>
<line x1="46.6" y1="235.1" x2="64.6" y2="235.1" stroke="#000" stroke-width="2"/>
<text x="69.80" y="238.50" font-size="8.4" letter-spacing="0.451">Adj. fit: y = 0.72 x + 2.90, p = 0.048</text>
<polygon fill="#d9d9d9" points="273.24,362.04 276.13,361.82 279.01,361.59 281.89,361.37 284.77,361.15 287.66,360.92 290.54,360.7 293.42,360.48 296.3,360.26 299.18,360.03 302.07,359.81 304.95,359.59 307.83,359.37 310.71,359.14 313.6,358.92 316.48,358.54 319.36,358.11 322.24,357.68 325.13,357.25 328.01,356.82 330.89,356.39 333.77,355.96 336.66,355.54 339.54,355.11 342.42,354.68 345.3,354.25 348.18,353.82 351.07,353.39 353.95,352.96 356.83,352.45 359.71,351.92 362.6,351.39 365.48,350.86 368.36,350.33 371.24,349.8 374.13,349.27 377.01,348.75 379.89,348.22 382.77,347.69 385.66,347.16 388.54,346.63 391.42,346.1 394.3,345.55 397.18,344.98 400.07,344.41 402.95,343.84 405.83,343.26 408.71,342.69 411.6,342.12 414.48,341.54 417.36,340.97 420.24,340.4 423.13,339.83 426.01,339.25 428.89,338.68 431.77,338.11 434.66,337.54 437.54,336.96 440.42,336.39 443.3,335.82 446.18,335.25 446.18,354.15 443.3,354.3 440.42,354.45 437.54,354.61 434.66,354.76 431.77,354.92 428.89,355.07 426.01,355.23 423.13,355.38 420.24,355.53 417.36,355.69 414.48,355.84 411.6,356 408.71,356.15 405.83,356.31 402.95,356.46 400.07,356.62 397.18,356.77 394.3,356.92 391.42,357.05 388.54,357.17 385.66,357.28 382.77,357.39 379.89,357.5 377.01,357.62 374.13,357.73 371.24,357.84 368.36,357.95 365.48,358.07 362.6,358.18 359.71,358.29 356.83,358.4 353.95,358.54 351.07,358.78 348.18,359.02 345.3,359.26 342.42,359.5 339.54,359.75 336.66,359.99 333.77,360.23 330.89,360.47 328.01,360.71 325.13,360.96 322.24,361.2 319.36,361.44 316.48,361.68 313.6,361.97 310.71,362.4 307.83,362.83 304.95,363.27 302.07,363.7 299.18,364.13 296.3,364.57 293.42,365 290.54,365.44 287.66,365.87 284.77,366.3 281.89,366.74 279.01,367.17 276.13,367.6 273.24,368.04"/>
<g fill="#4587c3" stroke="#fff" stroke-opacity="0.55" stroke-width="0.35">
<circle cx="316.1" cy="254.5" r="2.1"/>
<circle cx="297" cy="304.4" r="2.1"/>
<circle cx="290.2" cy="310.5" r="2.1"/>
<circle cx="304.3" cy="315.2" r="2.1"/>
<circle cx="307.7" cy="321.1" r="2.1"/>
<circle cx="314.7" cy="323.6" r="2.1"/>
<circle cx="321" cy="319.3" r="2.1"/>
<circle cx="326.9" cy="326.6" r="2.1"/>
<circle cx="318.7" cy="329.5" r="2.1"/>
<circle cx="321" cy="329.5" r="2.1"/>
<circle cx="316.1" cy="332.5" r="2.1"/>
<circle cx="293.5" cy="330.1" r="2.1"/>
<circle cx="289.2" cy="333" r="2.1"/>
<circle cx="301" cy="331.5" r="2.1"/>
<circle cx="304.9" cy="331.5" r="2.1"/>
<circle cx="274.3" cy="334.4" r="2.1"/>
<circle cx="344.6" cy="329.1" r="2.1"/>
<circle cx="353" cy="319.3" r="2.1"/>
<circle cx="375.2" cy="318.1" r="2.1"/>
<circle cx="347.5" cy="334.4" r="2.1"/>
<circle cx="330.2" cy="335.3" r="2.1"/>
<circle cx="308.6" cy="336.4" r="2.1"/>
<circle cx="312.1" cy="338.2" r="2.1"/>
<circle cx="310.4" cy="339.9" r="2.1"/>
<circle cx="312.7" cy="341.1" r="2.1"/>
<circle cx="315.1" cy="341.7" r="2.1"/>
<circle cx="291.1" cy="338.8" r="2.1"/>
<circle cx="289.4" cy="341.1" r="2.1"/>
<circle cx="288.2" cy="343.4" r="2.1"/>
<circle cx="287.6" cy="345.8" r="2.1"/>
<circle cx="297.8" cy="340.3" r="2.1"/>
<circle cx="306.3" cy="341.7" r="2.1"/>
<circle cx="305.7" cy="344.6" r="2.1"/>
<circle cx="307.5" cy="346.4" r="2.1"/>
<circle cx="302.2" cy="344.6" r="2.1"/>
<circle cx="295.4" cy="345.8" r="2.1"/>
<circle cx="317.4" cy="345.2" r="2.1"/>
<circle cx="321.5" cy="342.8" r="2.1"/>
<circle cx="323.8" cy="344" r="2.1"/>
<circle cx="327.9" cy="344.6" r="2.1"/>
<circle cx="330.8" cy="345.8" r="2.1"/>
<circle cx="335.1" cy="343.8" r="2.1"/>
<circle cx="280" cy="349.9" r="2.1"/>
<circle cx="284.1" cy="347.3" r="2.1"/>
<circle cx="313.3" cy="347.5" r="2.1"/>
<circle cx="318.6" cy="348.5" r="2.1"/>
<circle cx="326.7" cy="348.7" r="2.1"/>
<circle cx="329.6" cy="351" r="2.1"/>
<circle cx="341.3" cy="348.1" r="2.1"/>
<circle cx="275.9" cy="353.9" r="2.1"/>
<circle cx="281" cy="357.1" r="2.1"/>
<circle cx="297.5" cy="350.4" r="2.1"/>
<circle cx="299.9" cy="351" r="2.1"/>
<circle cx="302.2" cy="351.6" r="2.1"/>
<circle cx="305.1" cy="349.9" r="2.1"/>
<circle cx="307.5" cy="349.3" r="2.1"/>
<circle cx="309.8" cy="351" r="2.1"/>
<circle cx="311.5" cy="352.2" r="2.1"/>
<circle cx="295.8" cy="353.9" r="2.1"/>
<circle cx="298.7" cy="354.5" r="2.1"/>
<circle cx="301" cy="353.4" r="2.1"/>
<circle cx="304.5" cy="354.5" r="2.1"/>
<circle cx="306.9" cy="353.9" r="2.1"/>
<circle cx="309.8" cy="355.1" r="2.1"/>
<circle cx="312.7" cy="354.5" r="2.1"/>
<circle cx="317.4" cy="352.8" r="2.1"/>
<circle cx="320.3" cy="351.6" r="2.1"/>
<circle cx="322.1" cy="353.4" r="2.1"/>
<circle cx="319.1" cy="355.1" r="2.1"/>
<circle cx="325.6" cy="353.4" r="2.1"/>
<circle cx="327.9" cy="352.8" r="2.1"/>
<circle cx="334.9" cy="353.4" r="2.1"/>
<circle cx="337.2" cy="351.6" r="2.1"/>
<circle cx="290.5" cy="357.4" r="2.1"/>
<circle cx="291.7" cy="359.2" r="2.1"/>
<circle cx="294.6" cy="357.4" r="2.1"/>
<circle cx="296.9" cy="358" r="2.1"/>
<circle cx="299.9" cy="358.6" r="2.1"/>
<circle cx="303.4" cy="358" r="2.1"/>
<circle cx="306.3" cy="357.4" r="2.1"/>
<circle cx="308.6" cy="358" r="2.1"/>
<circle cx="317.4" cy="356.9" r="2.1"/>
<circle cx="320.9" cy="358" r="2.1"/>
<circle cx="274.8" cy="367.4" r="2.1"/>
<circle cx="277.7" cy="368" r="2.1"/>
<circle cx="283.5" cy="365" r="2.1"/>
<circle cx="285.3" cy="367.4" r="2.1"/>
<circle cx="283.5" cy="369.7" r="2.1"/>
<circle cx="288.2" cy="363.3" r="2.1"/>
<circle cx="291.1" cy="363.9" r="2.1"/>
<circle cx="294" cy="362.7" r="2.1"/>
<circle cx="296.9" cy="363.9" r="2.1"/>
<circle cx="299.9" cy="363.3" r="2.1"/>
<circle cx="302.8" cy="363.3" r="2.1"/>
<circle cx="305.7" cy="362.7" r="2.1"/>
<circle cx="308.6" cy="363.3" r="2.1"/>
<circle cx="311.5" cy="363.9" r="2.1"/>
<circle cx="313.9" cy="363.3" r="2.1"/>
<circle cx="316.2" cy="362.7" r="2.1"/>
<circle cx="323.8" cy="361" r="2.1"/>
<circle cx="326.7" cy="364.5" r="2.1"/>
<circle cx="329.1" cy="363.9" r="2.1"/>
<circle cx="331.4" cy="363.9" r="2.1"/>
<circle cx="333.7" cy="362.7" r="2.1"/>
<circle cx="337.8" cy="362.1" r="2.1"/>
<circle cx="341.3" cy="363.9" r="2.1"/>
<circle cx="289.4" cy="367.4" r="2.1"/>
<circle cx="292.3" cy="366.8" r="2.1"/>
<circle cx="295.8" cy="367.4" r="2.1"/>
<circle cx="298.7" cy="366.2" r="2.1"/>
<circle cx="302.2" cy="367.4" r="2.1"/>
<circle cx="305.1" cy="367.4" r="2.1"/>
<circle cx="308" cy="366.8" r="2.1"/>
<circle cx="311" cy="367.4" r="2.1"/>
<circle cx="313.9" cy="366.8" r="2.1"/>
<circle cx="317.4" cy="367.4" r="2.1"/>
<circle cx="320.9" cy="369.7" r="2.1"/>
<circle cx="288.2" cy="370.3" r="2.1"/>
<circle cx="291.7" cy="370.9" r="2.1"/>
<circle cx="295.2" cy="370.3" r="2.1"/>
<circle cx="298.7" cy="370.9" r="2.1"/>
<circle cx="301.6" cy="370.3" r="2.1"/>
<circle cx="304.5" cy="370.9" r="2.1"/>
<circle cx="308.6" cy="370.9" r="2.1"/>
<circle cx="312.1" cy="371.5" r="2.1"/>
<circle cx="331.4" cy="371.5" r="2.1"/>
<circle cx="333.7" cy="370.3" r="2.1"/>
<circle cx="287" cy="373.8" r="2.1"/>
<circle cx="290.5" cy="375" r="2.1"/>
<circle cx="294" cy="374.4" r="2.1"/>
<circle cx="297.5" cy="373.8" r="2.1"/>
<circle cx="301" cy="375" r="2.1"/>
<circle cx="304.5" cy="374.4" r="2.1"/>
<circle cx="312.7" cy="373.8" r="2.1"/>
<circle cx="317.4" cy="374.4" r="2.1"/>
<circle cx="325.3" cy="375" r="2.1"/>
<circle cx="278.3" cy="377.3" r="2.1"/>
<circle cx="285.9" cy="376.7" r="2.1"/>
<circle cx="292.9" cy="377.9" r="2.1"/>
<circle cx="295.2" cy="379.1" r="2.1"/>
<circle cx="301" cy="378.5" r="2.1"/>
<circle cx="304.5" cy="379.1" r="2.1"/>
<circle cx="313.3" cy="379.1" r="2.1"/>
<circle cx="333.7" cy="377.9" r="2.1"/>
<circle cx="337.2" cy="376.7" r="2.1"/>
<circle cx="340.7" cy="375.5" r="2.1"/>
<circle cx="287.6" cy="380.3" r="2.1"/>
<circle cx="289.4" cy="380.6" r="2.1"/>
<circle cx="295.8" cy="380.3" r="2.1"/>
<circle cx="296.9" cy="382" r="2.1"/>
<circle cx="299.9" cy="380.8" r="2.1"/>
<circle cx="301" cy="380.3" r="2.1"/>
<circle cx="299.3" cy="383.8" r="2.1"/>
<circle cx="299.9" cy="386.1" r="2.1"/>
<circle cx="298.7" cy="389.6" r="2.1"/>
<circle cx="304" cy="379.7" r="2.1"/>
<circle cx="306.9" cy="380.3" r="2.1"/>
<circle cx="304.5" cy="386.1" r="2.1"/>
<circle cx="306.9" cy="387.3" r="2.1"/>
<circle cx="302.8" cy="386.7" r="2.1"/>
<circle cx="305.1" cy="387.8" r="2.1"/>
<circle cx="313.9" cy="380.3" r="2.1"/>
<circle cx="311.3" cy="383.2" r="2.1"/>
<circle cx="316.8" cy="383.2" r="2.1"/>
<circle cx="314.5" cy="385.5" r="2.1"/>
<circle cx="286.4" cy="387.8" r="2.1"/>
<circle cx="285.9" cy="392.3" r="2.1"/>
<circle cx="291.5" cy="390.4" r="2.1"/>
<circle cx="318.3" cy="393.5" r="2.1"/>
<circle cx="323.5" cy="397" r="2.1"/>
<circle cx="333.7" cy="379.1" r="2.1"/>
<circle cx="335.8" cy="381.4" r="2.1"/>
<circle cx="338.4" cy="377.9" r="2.1"/>
<circle cx="344.5" cy="380.8" r="2.1"/>
<circle cx="331.6" cy="389.6" r="2.1"/>
<circle cx="340.2" cy="388.8" r="2.1"/>
<circle cx="299.6" cy="406.3" r="2.1"/>
<circle cx="287.3" cy="410.3" r="2.1"/>
<circle cx="279.4" cy="413.5" r="2.1"/>
<circle cx="319.3" cy="412" r="2.1"/>
<circle cx="356.7" cy="347.4" r="2.1"/>
<circle cx="357.9" cy="350.5" r="2.1"/>
<circle cx="357.3" cy="352.6" r="2.1"/>
<circle cx="349.7" cy="357.7" r="2.1"/>
<circle cx="355.9" cy="357.7" r="2.1"/>
<circle cx="346" cy="361.8" r="2.1"/>
<circle cx="353.2" cy="360.8" r="2.1"/>
<circle cx="362.4" cy="362.4" r="2.1"/>
<circle cx="364.1" cy="366.5" r="2.1"/>
<circle cx="373.3" cy="353.6" r="2.1"/>
<circle cx="388.5" cy="359.1" r="2.1"/>
<circle cx="403" cy="336.6" r="2.1"/>
<circle cx="411.3" cy="338.2" r="2.1"/>
<circle cx="405.5" cy="363.2" r="2.1"/>
<circle cx="421.9" cy="353.6" r="2.1"/>
<circle cx="431.2" cy="349.5" r="2.1"/>
<circle cx="436.3" cy="343.3" r="2.1"/>
<circle cx="431.8" cy="365.5" r="2.1"/>
<circle cx="446.1" cy="364.9" r="2.1"/>
</g>
<line x1="273.24" y1="365.04" x2="446.18" y2="345.35" stroke="#000" stroke-width="2"/>
<rect x="266.0" y="247.1" width="189.0" height="174.9" fill="none" stroke="#222" stroke-width="0.9"/>
<line x1="286.16" y1="422.0" x2="286.16" y2="425" stroke="#222" stroke-width="0.9"/>
<rect x="281.11" y="432.15" width="5.0" height="0.8" fill="#111"/><text x="286.96" y="434.90" font-size="8.4" letter-spacing="0.000">1</text>
<line x1="314.23" y1="422.0" x2="314.23" y2="425" stroke="#222" stroke-width="0.9"/>
<text x="311.69" y="434.90" font-size="8.4" letter-spacing="0.000">0</text>
<line x1="342.31" y1="422.0" x2="342.31" y2="425" stroke="#222" stroke-width="0.9"/>
<text x="339.76" y="434.90" font-size="8.4" letter-spacing="0.000">1</text>
<line x1="370.38" y1="422.0" x2="370.38" y2="425" stroke="#222" stroke-width="0.9"/>
<text x="367.84" y="434.90" font-size="8.4" letter-spacing="0.000">2</text>
<line x1="398.46" y1="422.0" x2="398.46" y2="425" stroke="#222" stroke-width="0.9"/>
<text x="395.91" y="434.90" font-size="8.4" letter-spacing="0.000">3</text>
<line x1="426.53" y1="422.0" x2="426.53" y2="425" stroke="#222" stroke-width="0.9"/>
<text x="423.99" y="434.90" font-size="8.4" letter-spacing="0.000">4</text>
<text x="305.60" y="445.30" font-size="8.4" letter-spacing="0.291">Mixing (W-N3) (normalized)</text>
<line x1="263" y1="401.1" x2="266.0" y2="401.1" stroke="#222" stroke-width="0.9"/>
<rect x="248.86" y="402.05" width="5.0" height="0.8" fill="#111"/><text x="254.71" y="404.80" font-size="8.4" letter-spacing="0.000">5</text>
<line x1="263" y1="371.5" x2="266.0" y2="371.5" stroke="#222" stroke-width="0.9"/>
<text x="254.71" y="375.20" font-size="8.4" letter-spacing="0.000">0</text>
<line x1="263" y1="341.9" x2="266.0" y2="341.9" stroke="#222" stroke-width="0.9"/>
<text x="254.71" y="345.60" font-size="8.4" letter-spacing="0.000">5</text>
<line x1="263" y1="312.3" x2="266.0" y2="312.3" stroke="#222" stroke-width="0.9"/>
<text x="249.62" y="316.00" font-size="8.4" letter-spacing="0.838">10</text>
<line x1="263" y1="282.7" x2="266.0" y2="282.7" stroke="#222" stroke-width="0.9"/>
<text x="249.62" y="286.40" font-size="8.4" letter-spacing="0.838">15</text>
<line x1="263" y1="253.1" x2="266.0" y2="253.1" stroke="#222" stroke-width="0.9"/>
<text x="249.62" y="256.80" font-size="8.4" letter-spacing="0.838">20</text>
<g transform="translate(238.0,335.4) rotate(-90)"><text x="-53.24" y="3.00" font-size="8.4" letter-spacing="0.021">Adj. MDS UPDRS III (Slope)</text></g>
<rect x="272.8" y="228.6" width="177.9" height="14.2" rx="2" fill="#fff" fill-opacity="0.8" stroke="#d6d6d6" stroke-width="0.8"/>
<line x1="275" y1="235.1" x2="293" y2="235.1" stroke="#000" stroke-width="2"/>
<text x="298.20" y="238.50" font-size="8.4" letter-spacing="0.451">Adj. fit: y = 0.54 x + 1.88, p = 0.018</text>
<polygon fill="#d9d9d9" points="501.74,293.44 504.63,293.51 507.51,293.59 510.39,293.67 513.27,293.74 516.16,293.82 519.04,293.9 521.92,293.98 524.8,294.05 527.68,294.13 530.57,294.21 533.45,294.29 536.33,294.36 539.21,294.44 542.1,294.52 544.98,294.39 547.86,294.21 550.74,294.02 553.63,293.84 556.51,293.65 559.39,293.47 562.27,293.28 565.16,293.1 568.04,292.91 570.92,292.73 573.8,292.54 576.68,292.33 579.57,292.12 582.45,291.92 585.33,291.71 588.21,291.5 591.1,291.29 593.98,291.08 596.86,290.87 599.74,290.66 602.63,290.45 605.51,290.24 608.39,290.04 611.27,289.83 614.16,289.62 617.04,289.41 619.92,289.2 622.8,288.98 625.68,288.71 628.57,288.44 631.45,288.17 634.33,287.9 637.21,287.63 640.1,287.36 642.98,287.09 645.86,286.83 648.74,286.56 651.63,286.29 654.51,286.02 657.39,285.75 660.27,285.48 663.16,285.21 666.04,284.94 668.92,284.67 671.8,284.4 674.68,284.14 674.68,308.94 671.8,308.67 668.92,308.4 666.04,308.13 663.16,307.86 660.27,307.59 657.39,307.32 654.51,307.05 651.63,306.78 648.74,306.51 645.86,306.25 642.98,305.98 640.1,305.71 637.21,305.44 634.33,305.17 631.45,304.9 628.57,304.63 625.68,304.36 622.8,304.09 619.92,303.83 617.04,303.58 614.16,303.32 611.27,303.06 608.39,302.81 605.51,302.55 602.63,302.29 599.74,302.04 596.86,301.78 593.98,301.52 591.1,301.27 588.21,301.01 585.33,300.75 582.45,300.5 579.57,300.24 576.68,299.98 573.8,299.73 570.92,299.53 568.04,299.32 565.16,299.12 562.27,298.91 559.39,298.71 556.51,298.51 553.63,298.3 550.74,298.1 547.86,297.9 544.98,297.69 542.1,297.57 539.21,297.71 536.33,297.85 533.45,297.99 530.57,298.13 527.68,298.27 524.8,298.41 521.92,298.55 519.04,298.69 516.16,298.83 513.27,298.97 510.39,299.11 507.51,299.25 504.63,299.39 501.74,299.54"/>
<g fill="#4587c3" stroke="#fff" stroke-opacity="0.55" stroke-width="0.35">
<circle cx="516" cy="254.6" r="2.1"/>
<circle cx="558.8" cy="262" r="2.1"/>
<circle cx="527.9" cy="264.8" r="2.1"/>
<circle cx="533.1" cy="265.5" r="2.1"/>
<circle cx="533.9" cy="269" r="2.1"/>
<circle cx="539.3" cy="267.1" r="2.1"/>
<circle cx="546" cy="271.3" r="2.1"/>
<circle cx="548.3" cy="271.8" r="2.1"/>
<circle cx="555.3" cy="276.2" r="2.1"/>
<circle cx="558.8" cy="274.8" r="2.1"/>
<circle cx="566.2" cy="279.9" r="2.1"/>
<circle cx="572.5" cy="277.9" r="2.1"/>
<circle cx="516.8" cy="274.4" r="2.1"/>
<circle cx="515" cy="277.6" r="2.1"/>
<circle cx="518" cy="277.4" r="2.1"/>
<circle cx="519.7" cy="276.2" r="2.1"/>
<circle cx="522.6" cy="275.6" r="2.1"/>
<circle cx="517.4" cy="280.3" r="2.1"/>
<circle cx="520.3" cy="282" r="2.1"/>
<circle cx="527.9" cy="278" r="2.1"/>
<circle cx="532" cy="276.8" r="2.1"/>
<circle cx="534.3" cy="276.2" r="2.1"/>
<circle cx="533.7" cy="279.7" r="2.1"/>
<circle cx="540.1" cy="275.6" r="2.1"/>
<circle cx="540.7" cy="278" r="2.1"/>
<circle cx="539" cy="279.7" r="2.1"/>
<circle cx="541.3" cy="280.3" r="2.1"/>
<circle cx="545.4" cy="280.3" r="2.1"/>
<circle cx="547.1" cy="282" r="2.1"/>
<circle cx="546" cy="284.4" r="2.1"/>
<circle cx="507.8" cy="284.4" r="2.1"/>
<circle cx="512.5" cy="286.7" r="2.1"/>
<circle cx="503.1" cy="289.6" r="2.1"/>
<circle cx="503.9" cy="292" r="2.1"/>
<circle cx="509" cy="293.1" r="2.1"/>
<circle cx="513.3" cy="290.8" r="2.1"/>
<circle cx="519.1" cy="287.9" r="2.1"/>
<circle cx="522" cy="285.5" r="2.1"/>
<circle cx="523.2" cy="282.6" r="2.1"/>
<circle cx="524.9" cy="284.4" r="2.1"/>
<circle cx="526.7" cy="282" r="2.1"/>
<circle cx="529" cy="283.2" r="2.1"/>
<circle cx="531.4" cy="284.4" r="2.1"/>
<circle cx="533.7" cy="285" r="2.1"/>
<circle cx="523.8" cy="287.9" r="2.1"/>
<circle cx="526.7" cy="287.3" r="2.1"/>
<circle cx="529" cy="288.5" r="2.1"/>
<circle cx="532.5" cy="287.9" r="2.1"/>
<circle cx="534.9" cy="287.3" r="2.1"/>
<circle cx="537.8" cy="285" r="2.1"/>
<circle cx="539.5" cy="288.5" r="2.1"/>
<circle cx="541.9" cy="287.9" r="2.1"/>
<circle cx="544.2" cy="286.7" r="2.1"/>
<circle cx="547.1" cy="287.3" r="2.1"/>
<circle cx="550.6" cy="284.4" r="2.1"/>
<circle cx="552.4" cy="286.1" r="2.1"/>
<circle cx="554.7" cy="284.4" r="2.1"/>
<circle cx="553.6" cy="287.9" r="2.1"/>
<circle cx="555.9" cy="287.3" r="2.1"/>
<circle cx="562.3" cy="290.2" r="2.1"/>
<circle cx="561.2" cy="291.4" r="2.1"/>
<circle cx="569.9" cy="287.9" r="2.1"/>
<circle cx="525.5" cy="291.4" r="2.1"/>
<circle cx="529" cy="292" r="2.1"/>
<circle cx="532.5" cy="291.4" r="2.1"/>
<circle cx="535.5" cy="292" r="2.1"/>
<circle cx="547.7" cy="291.4" r="2.1"/>
<circle cx="551.2" cy="292" r="2.1"/>
<circle cx="557.1" cy="292" r="2.1"/>
<circle cx="569.9" cy="293.7" r="2.1"/>
<circle cx="508.6" cy="292.9" r="2.1"/>
<circle cx="512.7" cy="292.3" r="2.1"/>
<circle cx="538.4" cy="292.3" r="2.1"/>
<circle cx="540" cy="294" r="2.1"/>
<circle cx="560.6" cy="293" r="2.1"/>
<circle cx="506.3" cy="297.6" r="2.1"/>
<circle cx="512.7" cy="298.8" r="2.1"/>
<circle cx="516.8" cy="298.8" r="2.1"/>
<circle cx="519.1" cy="298.8" r="2.1"/>
<circle cx="523.8" cy="297" r="2.1"/>
<circle cx="525" cy="301.1" r="2.1"/>
<circle cx="528.5" cy="298.8" r="2.1"/>
<circle cx="530.2" cy="301.7" r="2.1"/>
<circle cx="532.5" cy="300.5" r="2.1"/>
<circle cx="534.9" cy="298.8" r="2.1"/>
<circle cx="536.6" cy="299.9" r="2.1"/>
<circle cx="537.2" cy="301.7" r="2.1"/>
<circle cx="536" cy="304" r="2.1"/>
<circle cx="528.5" cy="304.6" r="2.1"/>
<circle cx="541.3" cy="298.2" r="2.1"/>
<circle cx="551.2" cy="296.4" r="2.1"/>
<circle cx="556.5" cy="302.3" r="2.1"/>
<circle cx="557.1" cy="303.4" r="2.1"/>
<circle cx="560" cy="297.6" r="2.1"/>
<circle cx="562.9" cy="301.1" r="2.1"/>
<circle cx="569.9" cy="297.6" r="2.1"/>
<circle cx="512.9" cy="304.6" r="2.1"/>
<circle cx="543.6" cy="303.4" r="2.1"/>
<circle cx="542.5" cy="306.4" r="2.1"/>
<circle cx="547.1" cy="306.4" r="2.1"/>
<circle cx="568.7" cy="307.3" r="2.1"/>
<circle cx="525" cy="307.5" r="2.1"/>
<circle cx="522.6" cy="309.9" r="2.1"/>
<circle cx="525.5" cy="310.4" r="2.1"/>
<circle cx="527.9" cy="311" r="2.1"/>
<circle cx="529" cy="312.8" r="2.1"/>
<circle cx="531.4" cy="309.9" r="2.1"/>
<circle cx="530.2" cy="314.5" r="2.1"/>
<circle cx="539" cy="309.3" r="2.1"/>
<circle cx="541.3" cy="309.3" r="2.1"/>
<circle cx="543.1" cy="308.1" r="2.1"/>
<circle cx="544.2" cy="310.4" r="2.1"/>
<circle cx="544" cy="313.4" r="2.1"/>
<circle cx="509.2" cy="311.6" r="2.1"/>
<circle cx="513.6" cy="312.8" r="2.1"/>
<circle cx="518" cy="315.1" r="2.1"/>
<circle cx="550.6" cy="311.6" r="2.1"/>
<circle cx="553.6" cy="311" r="2.1"/>
<circle cx="554.1" cy="315.1" r="2.1"/>
<circle cx="562.3" cy="314.5" r="2.1"/>
<circle cx="566.4" cy="315.1" r="2.1"/>
<circle cx="524.6" cy="317.4" r="2.1"/>
<circle cx="532.8" cy="316.9" r="2.1"/>
<circle cx="544.2" cy="318.6" r="2.1"/>
<circle cx="519.9" cy="322.7" r="2.1"/>
<circle cx="528.1" cy="321.5" r="2.1"/>
<circle cx="514.4" cy="325" r="2.1"/>
<circle cx="535.8" cy="323.3" r="2.1"/>
<circle cx="537.4" cy="326.8" r="2.1"/>
<circle cx="550.1" cy="321.5" r="2.1"/>
<circle cx="544.5" cy="325.6" r="2.1"/>
<circle cx="573.4" cy="327.4" r="2.1"/>
<circle cx="527.1" cy="330.9" r="2.1"/>
<circle cx="546.6" cy="330.9" r="2.1"/>
<circle cx="549.8" cy="330.6" r="2.1"/>
<circle cx="548.3" cy="334.4" r="2.1"/>
<circle cx="557.6" cy="329.7" r="2.1"/>
<circle cx="541.3" cy="335.5" r="2.1"/>
<circle cx="506.6" cy="339" r="2.1"/>
<circle cx="516.3" cy="347.6" r="2.1"/>
<circle cx="538.1" cy="343.7" r="2.1"/>
<circle cx="551.9" cy="365.1" r="2.1"/>
<circle cx="519.8" cy="413.6" r="2.1"/>
<circle cx="603.5" cy="268.2" r="2.1"/>
<circle cx="660" cy="266.6" r="2.1"/>
<circle cx="592.7" cy="283.9" r="2.1"/>
<circle cx="617.2" cy="283.3" r="2.1"/>
<circle cx="650.2" cy="282.4" r="2.1"/>
<circle cx="664.8" cy="285.7" r="2.1"/>
<circle cx="581.5" cy="288.3" r="2.1"/>
<circle cx="585.4" cy="287.9" r="2.1"/>
<circle cx="584.2" cy="291.8" r="2.1"/>
<circle cx="586.2" cy="290.6" r="2.1"/>
<circle cx="633.9" cy="288.7" r="2.1"/>
<circle cx="578.9" cy="300" r="2.1"/>
<circle cx="586.2" cy="299.1" r="2.1"/>
<circle cx="639.8" cy="308.9" r="2.1"/>
<circle cx="601.9" cy="314.8" r="2.1"/>
<circle cx="674.6" cy="317.3" r="2.1"/>
<circle cx="576" cy="321.7" r="2.1"/>
<circle cx="591.3" cy="320.7" r="2.1"/>
<circle cx="631.6" cy="324.6" r="2.1"/>
<circle cx="525.1" cy="292.8" r="2.1"/>
<circle cx="528.6" cy="291.9" r="2.1"/>
<circle cx="531.3" cy="292.8" r="2.1"/>
<circle cx="533.9" cy="291.9" r="2.1"/>
<circle cx="535.6" cy="293.7" r="2.1"/>
<circle cx="519.9" cy="287.5" r="2.1"/>
<circle cx="522.5" cy="285.8" r="2.1"/>
<circle cx="518.1" cy="281.4" r="2.1"/>
<circle cx="520.3" cy="283.2" r="2.1"/>
<circle cx="526" cy="284" r="2.1"/>
<circle cx="528.6" cy="284" r="2.1"/>
<circle cx="531.3" cy="284.9" r="2.1"/>
<circle cx="513.8" cy="291.9" r="2.1"/>
<circle cx="512.4" cy="293.7" r="2.1"/>
<circle cx="508.5" cy="293.2" r="2.1"/>
<circle cx="545.3" cy="286.2" r="2.1"/>
<circle cx="547" cy="287.5" r="2.1"/>
<circle cx="554.1" cy="292.8" r="2.1"/>
<circle cx="557.6" cy="292.4" r="2.1"/>
<circle cx="560.2" cy="291" r="2.1"/>
<circle cx="562" cy="289.7" r="2.1"/>
<circle cx="547" cy="291.9" r="2.1"/>
<circle cx="550.5" cy="292.8" r="2.1"/>
<circle cx="523.6" cy="292.9" r="2.1"/>
<circle cx="526.3" cy="292.4" r="2.1"/>
<circle cx="550.8" cy="292.9" r="2.1"/>
<circle cx="557.8" cy="292.9" r="2.1"/>
<circle cx="536.8" cy="299.9" r="2.1"/>
<circle cx="536.8" cy="302.1" r="2.1"/>
<circle cx="533.3" cy="301.6" r="2.1"/>
</g>
<line x1="501.74" y1="296.04" x2="674.68" y2="296.04" stroke="#000" stroke-width="2"/>
<rect x="494.5" y="247.1" width="189.0" height="174.9" fill="none" stroke="#222" stroke-width="0.9"/>
<line x1="514.66" y1="422.0" x2="514.66" y2="425" stroke="#222" stroke-width="0.9"/>
<rect x="509.61" y="432.15" width="5.0" height="0.8" fill="#111"/><text x="515.46" y="434.90" font-size="8.4" letter-spacing="0.000">1</text>
<line x1="542.73" y1="422.0" x2="542.73" y2="425" stroke="#222" stroke-width="0.9"/>
<text x="540.19" y="434.90" font-size="8.4" letter-spacing="0.000">0</text>
<line x1="570.81" y1="422.0" x2="570.81" y2="425" stroke="#222" stroke-width="0.9"/>
<text x="568.26" y="434.90" font-size="8.4" letter-spacing="0.000">1</text>
<line x1="598.88" y1="422.0" x2="598.88" y2="425" stroke="#222" stroke-width="0.9"/>
<text x="596.34" y="434.90" font-size="8.4" letter-spacing="0.000">2</text>
<line x1="626.96" y1="422.0" x2="626.96" y2="425" stroke="#222" stroke-width="0.9"/>
<text x="624.41" y="434.90" font-size="8.4" letter-spacing="0.000">3</text>
<line x1="655.03" y1="422.0" x2="655.03" y2="425" stroke="#222" stroke-width="0.9"/>
<text x="652.49" y="434.90" font-size="8.4" letter-spacing="0.000">4</text>
<text x="534.10" y="445.30" font-size="8.4" letter-spacing="0.291">Mixing (W-N3) (normalized)</text>
<line x1="491.5" y1="416.88" x2="494.5" y2="416.88" stroke="#222" stroke-width="0.9"/>
<rect x="477.36" y="417.83" width="5.0" height="0.8" fill="#111"/><text x="483.21" y="420.58" font-size="8.4" letter-spacing="0.000">6</text>
<line x1="491.5" y1="395.9" x2="494.5" y2="395.9" stroke="#222" stroke-width="0.9"/>
<rect x="477.36" y="396.85" width="5.0" height="0.8" fill="#111"/><text x="483.21" y="399.60" font-size="8.4" letter-spacing="0.000">5</text>
<line x1="491.5" y1="374.92" x2="494.5" y2="374.92" stroke="#222" stroke-width="0.9"/>
<rect x="477.36" y="375.87" width="5.0" height="0.8" fill="#111"/><text x="483.21" y="378.62" font-size="8.4" letter-spacing="0.000">4</text>
<line x1="491.5" y1="353.94" x2="494.5" y2="353.94" stroke="#222" stroke-width="0.9"/>
<rect x="477.36" y="354.89" width="5.0" height="0.8" fill="#111"/><text x="483.21" y="357.64" font-size="8.4" letter-spacing="0.000">3</text>
<line x1="491.5" y1="332.96" x2="494.5" y2="332.96" stroke="#222" stroke-width="0.9"/>
<rect x="477.36" y="333.91" width="5.0" height="0.8" fill="#111"/><text x="483.21" y="336.66" font-size="8.4" letter-spacing="0.000">2</text>
<line x1="491.5" y1="311.98" x2="494.5" y2="311.98" stroke="#222" stroke-width="0.9"/>
<rect x="477.36" y="312.93" width="5.0" height="0.8" fill="#111"/><text x="483.21" y="315.68" font-size="8.4" letter-spacing="0.000">1</text>
<line x1="491.5" y1="291" x2="494.5" y2="291" stroke="#222" stroke-width="0.9"/>
<text x="483.21" y="294.70" font-size="8.4" letter-spacing="0.000">0</text>
<line x1="491.5" y1="270.02" x2="494.5" y2="270.02" stroke="#222" stroke-width="0.9"/>
<text x="483.21" y="273.72" font-size="8.4" letter-spacing="0.000">1</text>
<line x1="491.5" y1="249.04" x2="494.5" y2="249.04" stroke="#222" stroke-width="0.9"/>
<text x="483.21" y="252.74" font-size="8.4" letter-spacing="0.000">2</text>
<g transform="translate(467.5,335.0) rotate(-90)"><text x="-46.39" y="3.00" font-size="8.4" letter-spacing="0.171">Adj. MoCA Total (Slope)</text></g>
<rect x="500.4" y="228.6" width="178.8" height="14.2" rx="2" fill="#fff" fill-opacity="0.8" stroke="#d6d6d6" stroke-width="0.8"/>
<line x1="502.6" y1="235.1" x2="520.6" y2="235.1" stroke="#000" stroke-width="2"/>
<text x="525.80" y="238.50" font-size="8.4" letter-spacing="0.433">Adj. fit: y = -0.00 x + -0.24, p = 0.98</text>
</svg></body></html>
